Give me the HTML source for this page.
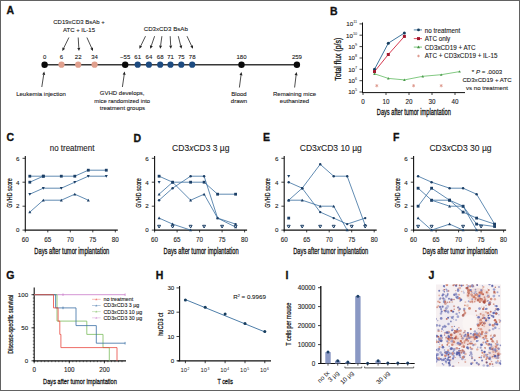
<!DOCTYPE html>
<html><head><meta charset="utf-8"><style>
html,body{margin:0;padding:0;background:#fff;}
svg{display:block;font-family:"Liberation Sans", sans-serif;}
</style></head><body>
<svg width="520" height="391" viewBox="0 0 520 391">
<rect x="0" y="0" width="520" height="391" fill="#fff"/>
<text x="6.6" y="13.9" font-size="10.5" font-weight="bold" fill="#111" stroke="#111" stroke-width="0.3">A</text>
<text x="330" y="14.5" font-size="10.5" font-weight="bold" fill="#111" stroke="#111" stroke-width="0.3">B</text>
<text x="6.5" y="141.3" font-size="10.5" font-weight="bold" fill="#111" stroke="#111" stroke-width="0.3">C</text>
<text x="133.6" y="141.5" font-size="10.5" font-weight="bold" fill="#111" stroke="#111" stroke-width="0.3">D</text>
<text x="263" y="141.3" font-size="10.5" font-weight="bold" fill="#111" stroke="#111" stroke-width="0.3">E</text>
<text x="393" y="141.3" font-size="10.5" font-weight="bold" fill="#111" stroke="#111" stroke-width="0.3">F</text>
<text x="6.3" y="279.3" font-size="10.5" font-weight="bold" fill="#111" stroke="#111" stroke-width="0.3">G</text>
<text x="155.8" y="279.1" font-size="10.5" font-weight="bold" fill="#111" stroke="#111" stroke-width="0.3">H</text>
<text x="285.5" y="279.1" font-size="10.5" font-weight="bold" fill="#111" stroke="#111" stroke-width="0.3">I</text>
<text x="428.5" y="279.1" font-size="10.5" font-weight="bold" fill="#111" stroke="#111" stroke-width="0.3">J</text>
<line x1="44.6" y1="64.7" x2="296.9" y2="64.7" stroke="#383838" stroke-width="1.6" />
<text x="79.0" y="24.2" font-size="6.0" text-anchor="middle" fill="#1a1a1a" font-weight="normal" stroke="#1a1a1a" stroke-width="0.1" >CD19xCD3 BsAb +</text>
<text x="79.0" y="32.0" font-size="6.0" text-anchor="middle" fill="#1a1a1a" font-weight="normal" stroke="#1a1a1a" stroke-width="0.1" >ATC + IL-15</text>
<line x1="68.9" y1="37.5" x2="63.7" y2="48.1" stroke="#222" stroke-width="0.8" />
<polygon points="62.3,51.0 62.4,47.5 65.1,48.8" fill="#222"/>
<line x1="78.2" y1="37.5" x2="78.8" y2="47.8" stroke="#222" stroke-width="0.8" />
<polygon points="79.0,51.0 77.3,47.9 80.3,47.7" fill="#222"/>
<line x1="86.9" y1="37.5" x2="91.7" y2="48.1" stroke="#222" stroke-width="0.8" />
<polygon points="93.0,51.0 90.3,48.7 93.0,47.5" fill="#222"/>
<text x="165.8" y="31.2" font-size="6.0" text-anchor="middle" fill="#1a1a1a" font-weight="normal" stroke="#1a1a1a" stroke-width="0.1" textLength="44.2" lengthAdjust="spacingAndGlyphs" >CD3xCD3 BsAb</text>
<line x1="145.5" y1="36.2" x2="140.8" y2="45.9" stroke="#222" stroke-width="0.8" />
<polygon points="139.4,48.8 139.4,45.3 142.1,46.6" fill="#222"/>
<line x1="154.6" y1="36.2" x2="151.3" y2="45.8" stroke="#222" stroke-width="0.8" />
<polygon points="150.3,48.8 149.9,45.3 152.8,46.3" fill="#222"/>
<line x1="161.9" y1="36.2" x2="160.6" y2="45.6" stroke="#222" stroke-width="0.8" />
<polygon points="160.2,48.8 159.1,45.4 162.1,45.8" fill="#222"/>
<line x1="170.2" y1="36.2" x2="170.7" y2="45.6" stroke="#222" stroke-width="0.8" />
<polygon points="170.9,48.8 169.2,45.7 172.2,45.5" fill="#222"/>
<line x1="178.3" y1="36.2" x2="180.7" y2="45.7" stroke="#222" stroke-width="0.8" />
<polygon points="181.5,48.8 179.3,46.1 182.2,45.3" fill="#222"/>
<line x1="187.0" y1="36.2" x2="191.6" y2="45.9" stroke="#222" stroke-width="0.8" />
<polygon points="193.0,48.8 190.3,46.6 193.0,45.3" fill="#222"/>
<text x="44.6" y="59.4" font-size="6.0" text-anchor="middle" fill="#1a1a1a" font-weight="normal" stroke="#1a1a1a" stroke-width="0.1" >0</text>
<text x="61.5" y="59.4" font-size="6.0" text-anchor="middle" fill="#1a1a1a" font-weight="normal" stroke="#1a1a1a" stroke-width="0.1" >6</text>
<text x="78.2" y="59.4" font-size="6.0" text-anchor="middle" fill="#1a1a1a" font-weight="normal" stroke="#1a1a1a" stroke-width="0.1" >22</text>
<text x="94.6" y="59.4" font-size="6.0" text-anchor="middle" fill="#1a1a1a" font-weight="normal" stroke="#1a1a1a" stroke-width="0.1" >34</text>
<text x="125.2" y="59.4" font-size="6.0" text-anchor="middle" fill="#1a1a1a" font-weight="normal" stroke="#1a1a1a" stroke-width="0.1" >~55</text>
<text x="137.7" y="59.4" font-size="6.0" text-anchor="middle" fill="#1a1a1a" font-weight="normal" stroke="#1a1a1a" stroke-width="0.1" >61</text>
<text x="148.9" y="59.4" font-size="6.0" text-anchor="middle" fill="#1a1a1a" font-weight="normal" stroke="#1a1a1a" stroke-width="0.1" >64</text>
<text x="160.2" y="59.4" font-size="6.0" text-anchor="middle" fill="#1a1a1a" font-weight="normal" stroke="#1a1a1a" stroke-width="0.1" >68</text>
<text x="170.5" y="59.4" font-size="6.0" text-anchor="middle" fill="#1a1a1a" font-weight="normal" stroke="#1a1a1a" stroke-width="0.1" >71</text>
<text x="181.3" y="59.4" font-size="6.0" text-anchor="middle" fill="#1a1a1a" font-weight="normal" stroke="#1a1a1a" stroke-width="0.1" >75</text>
<text x="192.2" y="59.4" font-size="6.0" text-anchor="middle" fill="#1a1a1a" font-weight="normal" stroke="#1a1a1a" stroke-width="0.1" >78</text>
<text x="241.5" y="59.4" font-size="6.0" text-anchor="middle" fill="#1a1a1a" font-weight="normal" stroke="#1a1a1a" stroke-width="0.1" >180</text>
<text x="296.9" y="59.4" font-size="6.0" text-anchor="middle" fill="#1a1a1a" font-weight="normal" stroke="#1a1a1a" stroke-width="0.1" >259</text>
<circle cx="44.6" cy="64.7" r="3.2" fill="#0a0a0a"/>
<circle cx="125.2" cy="64.7" r="3.2" fill="#0a0a0a"/>
<circle cx="241.5" cy="64.7" r="3.2" fill="#0a0a0a"/>
<circle cx="296.9" cy="64.7" r="3.2" fill="#0a0a0a"/>
<circle cx="61.5" cy="64.7" r="3.1" fill="#e0a08e"/>
<circle cx="78.2" cy="64.7" r="3.1" fill="#e0a08e"/>
<circle cx="94.6" cy="64.7" r="3.1" fill="#e0a08e"/>
<circle cx="137.7" cy="64.7" r="3.1" fill="#1d4b80"/>
<circle cx="148.9" cy="64.7" r="3.1" fill="#1d4b80"/>
<circle cx="160.2" cy="64.7" r="3.1" fill="#1d4b80"/>
<circle cx="170.5" cy="64.7" r="3.1" fill="#1d4b80"/>
<circle cx="181.3" cy="64.7" r="3.1" fill="#1d4b80"/>
<circle cx="192.2" cy="64.7" r="3.1" fill="#1d4b80"/>
<line x1="41.8" y1="87.0" x2="43.7" y2="74.7" stroke="#222" stroke-width="0.8" />
<polygon points="44.2,71.5 45.2,74.9 42.2,74.4" fill="#222"/>
<line x1="122.4" y1="87.0" x2="124.2" y2="74.7" stroke="#222" stroke-width="0.8" />
<polygon points="124.6,71.5 125.6,74.9 122.7,74.5" fill="#222"/>
<line x1="239.4" y1="87.5" x2="241.0" y2="75.2" stroke="#222" stroke-width="0.8" />
<polygon points="241.4,72.0 242.5,75.4 239.5,75.0" fill="#222"/>
<line x1="294.6" y1="87.5" x2="296.1" y2="75.2" stroke="#222" stroke-width="0.8" />
<polygon points="296.5,72.0 297.6,75.4 294.6,75.0" fill="#222"/>
<text x="41.0" y="95.8" font-size="6.0" text-anchor="middle" fill="#1a1a1a" font-weight="normal" stroke="#1a1a1a" stroke-width="0.1" >Leukemia injection</text>
<text x="122.2" y="95.2" font-size="6.0" text-anchor="middle" fill="#1a1a1a" font-weight="normal" stroke="#1a1a1a" stroke-width="0.1" >GVHD develops,</text>
<text x="122.2" y="102.5" font-size="6.0" text-anchor="middle" fill="#1a1a1a" font-weight="normal" stroke="#1a1a1a" stroke-width="0.1" textLength="55.8" lengthAdjust="spacingAndGlyphs" >mice randomized into</text>
<text x="122.4" y="109.8" font-size="6.0" text-anchor="middle" fill="#1a1a1a" font-weight="normal" stroke="#1a1a1a" stroke-width="0.1" >treatment groups</text>
<text x="239.0" y="95.7" font-size="6.0" text-anchor="middle" fill="#1a1a1a" font-weight="normal" stroke="#1a1a1a" stroke-width="0.1" >Blood</text>
<text x="239.0" y="102.6" font-size="6.0" text-anchor="middle" fill="#1a1a1a" font-weight="normal" stroke="#1a1a1a" stroke-width="0.1" >drawn</text>
<text x="294.5" y="95.7" font-size="6.0" text-anchor="middle" fill="#1a1a1a" font-weight="normal" stroke="#1a1a1a" stroke-width="0.1" >Remaining mice</text>
<text x="294.5" y="102.6" font-size="6.0" text-anchor="middle" fill="#1a1a1a" font-weight="normal" stroke="#1a1a1a" stroke-width="0.1" >euthanized</text>
<line x1="362.5" y1="22.5" x2="362.5" y2="92.6" stroke="#111" stroke-width="1" />
<line x1="362.0" y1="92.6" x2="465.0" y2="92.6" stroke="#111" stroke-width="1" />
<line x1="359.5" y1="92.0" x2="362.5" y2="92.0" stroke="#111" stroke-width="0.8" />
<text x="357.2" y="94.2" font-size="6.2" text-anchor="end" fill="#222" stroke="#222" stroke-width="0.1">10<tspan font-size="3.8" dy="-2.8" stroke-width="0">5</tspan></text>
<line x1="359.5" y1="80.7" x2="362.5" y2="80.7" stroke="#111" stroke-width="0.8" />
<text x="357.2" y="82.9" font-size="6.2" text-anchor="end" fill="#222" stroke="#222" stroke-width="0.1">10<tspan font-size="3.8" dy="-2.8" stroke-width="0">6</tspan></text>
<line x1="359.5" y1="69.3" x2="362.5" y2="69.3" stroke="#111" stroke-width="0.8" />
<text x="357.2" y="71.5" font-size="6.2" text-anchor="end" fill="#222" stroke="#222" stroke-width="0.1">10<tspan font-size="3.8" dy="-2.8" stroke-width="0">7</tspan></text>
<line x1="359.5" y1="58.0" x2="362.5" y2="58.0" stroke="#111" stroke-width="0.8" />
<text x="357.2" y="60.2" font-size="6.2" text-anchor="end" fill="#222" stroke="#222" stroke-width="0.1">10<tspan font-size="3.8" dy="-2.8" stroke-width="0">8</tspan></text>
<line x1="359.5" y1="46.6" x2="362.5" y2="46.6" stroke="#111" stroke-width="0.8" />
<text x="357.2" y="48.8" font-size="6.2" text-anchor="end" fill="#222" stroke="#222" stroke-width="0.1">10<tspan font-size="3.8" dy="-2.8" stroke-width="0">9</tspan></text>
<line x1="359.5" y1="35.2" x2="362.5" y2="35.2" stroke="#111" stroke-width="0.8" />
<text x="357.2" y="37.5" font-size="6.2" text-anchor="end" fill="#222" stroke="#222" stroke-width="0.1">10<tspan font-size="3.8" dy="-2.8" stroke-width="0">10</tspan></text>
<line x1="359.5" y1="23.9" x2="362.5" y2="23.9" stroke="#111" stroke-width="0.8" />
<text x="357.2" y="26.1" font-size="6.2" text-anchor="end" fill="#222" stroke="#222" stroke-width="0.1">10<tspan font-size="3.8" dy="-2.8" stroke-width="0">11</tspan></text>
<line x1="363.0" y1="92.6" x2="363.0" y2="95.0" stroke="#111" stroke-width="0.8" />
<text x="363.0" y="103.8" font-size="6.3" text-anchor="middle" fill="#222" font-weight="normal" stroke="#222" stroke-width="0.1" >0</text>
<line x1="386.0" y1="92.6" x2="386.0" y2="95.0" stroke="#111" stroke-width="0.8" />
<text x="386.0" y="103.8" font-size="6.3" text-anchor="middle" fill="#222" font-weight="normal" stroke="#222" stroke-width="0.1" >10</text>
<line x1="409.0" y1="92.6" x2="409.0" y2="95.0" stroke="#111" stroke-width="0.8" />
<text x="409.0" y="103.8" font-size="6.3" text-anchor="middle" fill="#222" font-weight="normal" stroke="#222" stroke-width="0.1" >20</text>
<line x1="432.0" y1="92.6" x2="432.0" y2="95.0" stroke="#111" stroke-width="0.8" />
<text x="432.0" y="103.8" font-size="6.3" text-anchor="middle" fill="#222" font-weight="normal" stroke="#222" stroke-width="0.1" >30</text>
<line x1="455.0" y1="92.6" x2="455.0" y2="95.0" stroke="#111" stroke-width="0.8" />
<text x="455.0" y="103.8" font-size="6.3" text-anchor="middle" fill="#222" font-weight="normal" stroke="#222" stroke-width="0.1" >40</text>
<text x="413.8" y="115.2" font-size="8.2" text-anchor="middle" fill="#111" font-weight="normal" textLength="74" lengthAdjust="spacingAndGlyphs" stroke="#111" stroke-width="0.27">Days after tumor implantation</text>
<text transform="translate(337.6,59.3) rotate(-90)" x="0" y="3.0" font-size="8.2" text-anchor="middle" fill="#111" font-weight="normal" textLength="43" lengthAdjust="spacingAndGlyphs" stroke="#111" stroke-width="0.27">Total flux (p/s)</text>
<polyline points="374.5,69.3 388.3,43.2 404.4,33.0" fill="none" stroke="#2a6592" stroke-width="0.9"/>
<polyline points="374.5,71.6 388.3,54.5 404.4,36.4" fill="none" stroke="#d0243c" stroke-width="0.9"/>
<polyline points="374.5,73.8 388.3,78.4 404.4,79.9 422.8,76.3 441.2,74.7 459.6,71.6" fill="none" stroke="#62bb62" stroke-width="0.8"/>
<circle cx="374.5" cy="69.3" r="1.5" fill="#173d5e"/>
<circle cx="388.3" cy="43.2" r="1.5" fill="#173d5e"/>
<circle cx="404.4" cy="33.0" r="1.5" fill="#173d5e"/>
<rect x="373.0" y="70.1" width="3" height="3" fill="#a3182e"/>
<rect x="386.8" y="53.0" width="3" height="3" fill="#a3182e"/>
<rect x="402.9" y="34.9" width="3" height="3" fill="#a3182e"/>
<polygon points="373.2,74.9 375.8,74.9 374.5,72.5" fill="#4a9a4a"/>
<polygon points="387.0,79.4 389.6,79.4 388.3,77.1" fill="#4a9a4a"/>
<polygon points="403.1,80.9 405.7,80.9 404.4,78.6" fill="#4a9a4a"/>
<polygon points="421.5,77.4 424.1,77.4 422.8,75.0" fill="#4a9a4a"/>
<polygon points="439.9,75.8 442.5,75.8 441.2,73.4" fill="#4a9a4a"/>
<polygon points="458.3,72.6 460.9,72.6 459.6,70.3" fill="#4a9a4a"/>
<line x1="376.8" y1="84.1" x2="376.8" y2="87.3" stroke="#dc9488" stroke-width="0.8" />
<line x1="375.4" y1="84.9" x2="378.2" y2="86.5" stroke="#dc9488" stroke-width="0.8" />
<line x1="378.2" y1="84.9" x2="375.4" y2="86.5" stroke="#dc9488" stroke-width="0.8" />
<line x1="413.6" y1="84.1" x2="413.6" y2="87.3" stroke="#dc9488" stroke-width="0.8" />
<line x1="412.2" y1="84.9" x2="415.0" y2="86.5" stroke="#dc9488" stroke-width="0.8" />
<line x1="415.0" y1="84.9" x2="412.2" y2="86.5" stroke="#dc9488" stroke-width="0.8" />
<line x1="441.2" y1="84.1" x2="441.2" y2="87.3" stroke="#dc9488" stroke-width="0.8" />
<line x1="439.8" y1="84.9" x2="442.6" y2="86.5" stroke="#dc9488" stroke-width="0.8" />
<line x1="442.6" y1="84.9" x2="439.8" y2="86.5" stroke="#dc9488" stroke-width="0.8" />
<line x1="413.8" y1="29.9" x2="422.0" y2="29.9" stroke="#2a6592" stroke-width="0.8" />
<circle cx="418.5" cy="29.9" r="1.4" fill="#173d5e"/>
<line x1="413.8" y1="38.6" x2="422.0" y2="38.6" stroke="#d0243c" stroke-width="0.8" />
<rect x="417.0" y="37.1" width="3" height="3" fill="#a3182e"/>
<line x1="413.8" y1="47.1" x2="422.0" y2="47.1" stroke="#5cb85c" stroke-width="0.8" />
<polygon points="417.0,48.3 420.0,48.3 418.5,45.6" fill="#3f8f3f"/>
<line x1="418.5" y1="54.7" x2="418.5" y2="57.3" stroke="#dc9488" stroke-width="0.8" />
<line x1="417.4" y1="55.4" x2="419.6" y2="56.6" stroke="#dc9488" stroke-width="0.8" />
<line x1="419.6" y1="55.4" x2="417.4" y2="56.6" stroke="#dc9488" stroke-width="0.8" />
<text x="424.8" y="32.6" font-size="6.3" text-anchor="start" fill="#222" font-weight="normal" stroke="#222" stroke-width="0.1" >no treatment</text>
<text x="424.8" y="41.0" font-size="6.3" text-anchor="start" fill="#222" font-weight="normal" stroke="#222" stroke-width="0.1" >ATC only</text>
<text x="424.8" y="49.7" font-size="6.3" text-anchor="start" fill="#222" font-weight="normal" stroke="#222" stroke-width="0.1" >CD3xCD19 + ATC</text>
<text x="424.8" y="58.3" font-size="6.3" text-anchor="start" fill="#222" font-weight="normal" stroke="#222" stroke-width="0.1" >ATC + CD3xCD19 + IL-15</text>
<text x="487.0" y="74.0" font-size="6.1" text-anchor="middle" fill="#222" font-weight="normal" stroke="#222" stroke-width="0.1" >* <tspan font-style="italic">P</tspan> = .0003</text>
<text x="487.0" y="82.1" font-size="6.1" text-anchor="middle" fill="#222" font-weight="normal" stroke="#222" stroke-width="0.1" >CD3xCD19 + ATC</text>
<text x="487.0" y="89.9" font-size="6.1" text-anchor="middle" fill="#222" font-weight="normal" stroke="#222" stroke-width="0.1" >vs no treatment</text>
<line x1="25.3" y1="156.0" x2="25.3" y2="230.7" stroke="#111" stroke-width="1.1" />
<line x1="24.8" y1="230.1" x2="117.8" y2="230.1" stroke="#111" stroke-width="1.2" />
<line x1="22.5" y1="230.1" x2="25.3" y2="230.1" stroke="#111" stroke-width="0.8" />
<text x="17.8" y="232.3" font-size="6.2" text-anchor="middle" fill="#222" font-weight="normal" stroke="#222" stroke-width="0.1" >0</text>
<line x1="22.5" y1="206.2" x2="25.3" y2="206.2" stroke="#111" stroke-width="0.8" />
<text x="17.8" y="208.4" font-size="6.2" text-anchor="middle" fill="#222" font-weight="normal" stroke="#222" stroke-width="0.1" >2</text>
<line x1="22.5" y1="182.2" x2="25.3" y2="182.2" stroke="#111" stroke-width="0.8" />
<text x="17.8" y="184.5" font-size="6.2" text-anchor="middle" fill="#222" font-weight="normal" stroke="#222" stroke-width="0.1" >4</text>
<line x1="22.5" y1="158.3" x2="25.3" y2="158.3" stroke="#111" stroke-width="0.8" />
<text x="17.8" y="160.5" font-size="6.2" text-anchor="middle" fill="#222" font-weight="normal" stroke="#222" stroke-width="0.1" >6</text>
<line x1="25.3" y1="230.1" x2="25.3" y2="232.4" stroke="#111" stroke-width="0.8" />
<text x="25.3" y="242.0" font-size="6.3" text-anchor="middle" fill="#222" font-weight="normal" stroke="#222" stroke-width="0.1" >60</text>
<line x1="47.8" y1="230.1" x2="47.8" y2="232.4" stroke="#111" stroke-width="0.8" />
<text x="47.8" y="242.0" font-size="6.3" text-anchor="middle" fill="#222" font-weight="normal" stroke="#222" stroke-width="0.1" >65</text>
<line x1="70.3" y1="230.1" x2="70.3" y2="232.4" stroke="#111" stroke-width="0.8" />
<text x="70.3" y="242.0" font-size="6.3" text-anchor="middle" fill="#222" font-weight="normal" stroke="#222" stroke-width="0.1" >70</text>
<line x1="92.8" y1="230.1" x2="92.8" y2="232.4" stroke="#111" stroke-width="0.8" />
<text x="92.8" y="242.0" font-size="6.3" text-anchor="middle" fill="#222" font-weight="normal" stroke="#222" stroke-width="0.1" >75</text>
<line x1="115.3" y1="230.1" x2="115.3" y2="232.4" stroke="#111" stroke-width="0.8" />
<text x="115.3" y="242.0" font-size="6.3" text-anchor="middle" fill="#222" font-weight="normal" stroke="#222" stroke-width="0.1" >80</text>
<text x="71.8" y="253.6" font-size="8.4" text-anchor="middle" fill="#111" font-weight="normal" textLength="75" lengthAdjust="spacingAndGlyphs" stroke="#111" stroke-width="0.27">Days after tumor implantation</text>
<text transform="translate(8.6,193.0) rotate(-90)" x="0" y="2.9" font-size="8.0" text-anchor="middle" fill="#111" font-weight="normal" textLength="29.5" lengthAdjust="spacingAndGlyphs" stroke="#111" stroke-width="0.22">GVHD score</text>
<text x="72.1" y="151.1" font-size="8.5" text-anchor="middle" fill="#222" font-weight="normal" stroke="#222" stroke-width="0.1" textLength="44.6" lengthAdjust="spacingAndGlyphs" >no treatment</text>
<polyline points="29.8,176.2 43.3,176.2 61.3,176.2 74.8,176.2 88.3,170.2 106.3,170.2" fill="none" stroke="#3a6f9f" stroke-width="0.8"/>
<rect x="28.4" y="174.8" width="2.8" height="2.8" fill="#1c3f66"/>
<rect x="41.9" y="174.8" width="2.8" height="2.8" fill="#1c3f66"/>
<rect x="59.9" y="174.8" width="2.8" height="2.8" fill="#1c3f66"/>
<rect x="73.4" y="174.8" width="2.8" height="2.8" fill="#1c3f66"/>
<rect x="86.9" y="168.8" width="2.8" height="2.8" fill="#1c3f66"/>
<rect x="104.9" y="168.8" width="2.8" height="2.8" fill="#1c3f66"/>
<polyline points="29.8,182.2 43.3,176.2" fill="none" stroke="#3a6f9f" stroke-width="0.8"/>
<rect x="28.4" y="180.8" width="2.8" height="2.8" fill="#1c3f66"/>
<rect x="41.9" y="174.8" width="2.8" height="2.8" fill="#1c3f66"/>
<polyline points="29.8,194.2 43.3,188.2 61.3,188.2 74.8,182.2 88.3,176.2 106.3,176.2" fill="none" stroke="#3a6f9f" stroke-width="0.8"/>
<polygon points="28.3,193.0 31.3,193.0 29.8,195.7" fill="#1c3f66"/>
<polygon points="41.8,187.0 44.8,187.0 43.3,189.7" fill="#1c3f66"/>
<polygon points="59.8,187.0 62.8,187.0 61.3,189.7" fill="#1c3f66"/>
<polygon points="73.3,181.0 76.3,181.0 74.8,183.7" fill="#1c3f66"/>
<polygon points="86.8,175.0 89.8,175.0 88.3,177.7" fill="#1c3f66"/>
<polygon points="104.8,175.0 107.8,175.0 106.3,177.7" fill="#1c3f66"/>
<polyline points="29.8,212.1 43.3,200.2 61.3,200.2 74.8,194.2 88.3,200.2" fill="none" stroke="#3a6f9f" stroke-width="0.8"/>
<polygon points="28.3,213.3 31.3,213.3 29.8,210.6" fill="#1c3f66"/>
<polygon points="41.8,201.4 44.8,201.4 43.3,198.7" fill="#1c3f66"/>
<polygon points="59.8,201.4 62.8,201.4 61.3,198.7" fill="#1c3f66"/>
<polygon points="73.3,195.4 76.3,195.4 74.8,192.7" fill="#1c3f66"/>
<polygon points="86.8,201.4 89.8,201.4 88.3,198.7" fill="#1c3f66"/>
<line x1="154.6" y1="156.0" x2="154.6" y2="230.7" stroke="#111" stroke-width="1.1" />
<line x1="154.1" y1="230.1" x2="247.1" y2="230.1" stroke="#111" stroke-width="1.2" />
<line x1="151.8" y1="230.1" x2="154.6" y2="230.1" stroke="#111" stroke-width="0.8" />
<text x="147.1" y="232.3" font-size="6.2" text-anchor="middle" fill="#222" font-weight="normal" stroke="#222" stroke-width="0.1" >0</text>
<line x1="151.8" y1="206.2" x2="154.6" y2="206.2" stroke="#111" stroke-width="0.8" />
<text x="147.1" y="208.4" font-size="6.2" text-anchor="middle" fill="#222" font-weight="normal" stroke="#222" stroke-width="0.1" >2</text>
<line x1="151.8" y1="182.2" x2="154.6" y2="182.2" stroke="#111" stroke-width="0.8" />
<text x="147.1" y="184.5" font-size="6.2" text-anchor="middle" fill="#222" font-weight="normal" stroke="#222" stroke-width="0.1" >4</text>
<line x1="151.8" y1="158.3" x2="154.6" y2="158.3" stroke="#111" stroke-width="0.8" />
<text x="147.1" y="160.5" font-size="6.2" text-anchor="middle" fill="#222" font-weight="normal" stroke="#222" stroke-width="0.1" >6</text>
<line x1="154.6" y1="230.1" x2="154.6" y2="232.4" stroke="#111" stroke-width="0.8" />
<text x="154.6" y="242.0" font-size="6.3" text-anchor="middle" fill="#222" font-weight="normal" stroke="#222" stroke-width="0.1" >60</text>
<line x1="177.1" y1="230.1" x2="177.1" y2="232.4" stroke="#111" stroke-width="0.8" />
<text x="177.1" y="242.0" font-size="6.3" text-anchor="middle" fill="#222" font-weight="normal" stroke="#222" stroke-width="0.1" >65</text>
<line x1="199.6" y1="230.1" x2="199.6" y2="232.4" stroke="#111" stroke-width="0.8" />
<text x="199.6" y="242.0" font-size="6.3" text-anchor="middle" fill="#222" font-weight="normal" stroke="#222" stroke-width="0.1" >70</text>
<line x1="222.1" y1="230.1" x2="222.1" y2="232.4" stroke="#111" stroke-width="0.8" />
<text x="222.1" y="242.0" font-size="6.3" text-anchor="middle" fill="#222" font-weight="normal" stroke="#222" stroke-width="0.1" >75</text>
<line x1="244.6" y1="230.1" x2="244.6" y2="232.4" stroke="#111" stroke-width="0.8" />
<text x="244.6" y="242.0" font-size="6.3" text-anchor="middle" fill="#222" font-weight="normal" stroke="#222" stroke-width="0.1" >80</text>
<text x="201.1" y="253.6" font-size="8.4" text-anchor="middle" fill="#111" font-weight="normal" textLength="75" lengthAdjust="spacingAndGlyphs" stroke="#111" stroke-width="0.27">Days after tumor implantation</text>
<text transform="translate(137.9,193.0) rotate(-90)" x="0" y="2.9" font-size="8.0" text-anchor="middle" fill="#111" font-weight="normal" textLength="29.5" lengthAdjust="spacingAndGlyphs" stroke="#111" stroke-width="0.22">GVHD score</text>
<text x="200.8" y="151.1" font-size="8.5" text-anchor="middle" fill="#222" font-weight="normal" stroke="#222" stroke-width="0.1" >CD3<tspan font-style="italic">x</tspan>CD3 3 µg</text>
<polyline points="159.1,176.2 172.6,182.2 190.6,182.2 204.1,182.2 217.6,194.2 235.6,194.2" fill="none" stroke="#3a6f9f" stroke-width="0.8"/>
<rect x="157.7" y="174.8" width="2.8" height="2.8" fill="#1c3f66"/>
<rect x="171.2" y="180.8" width="2.8" height="2.8" fill="#1c3f66"/>
<rect x="189.2" y="180.8" width="2.8" height="2.8" fill="#1c3f66"/>
<rect x="202.7" y="180.8" width="2.8" height="2.8" fill="#1c3f66"/>
<rect x="216.2" y="192.8" width="2.8" height="2.8" fill="#1c3f66"/>
<rect x="234.2" y="192.8" width="2.8" height="2.8" fill="#1c3f66"/>
<polyline points="159.1,194.2 172.6,182.2 190.6,200.2 204.1,194.2 217.6,218.1 235.6,227.1" fill="none" stroke="#3a6f9f" stroke-width="0.8"/>
<polygon points="157.6,195.4 160.6,195.4 159.1,192.7" fill="#1c3f66"/>
<polygon points="171.1,183.4 174.1,183.4 172.6,180.7" fill="#1c3f66"/>
<polygon points="189.1,201.4 192.1,201.4 190.6,198.7" fill="#1c3f66"/>
<polygon points="202.6,195.4 205.6,195.4 204.1,192.7" fill="#1c3f66"/>
<polygon points="216.1,219.3 219.1,219.3 217.6,216.6" fill="#1c3f66"/>
<polygon points="234.1,228.3 237.1,228.3 235.6,225.6" fill="#1c3f66"/>
<polyline points="159.1,200.2 172.6,188.2 190.6,176.2 204.1,176.2 217.6,218.1 235.6,224.1" fill="none" stroke="#3a6f9f" stroke-width="0.8"/>
<circle cx="159.1" cy="200.2" r="1.2" fill="#1c3f66"/>
<circle cx="172.6" cy="188.2" r="1.2" fill="#1c3f66"/>
<circle cx="190.6" cy="176.2" r="1.2" fill="#1c3f66"/>
<circle cx="204.1" cy="176.2" r="1.2" fill="#1c3f66"/>
<circle cx="217.6" cy="218.1" r="1.2" fill="#1c3f66"/>
<circle cx="235.6" cy="224.1" r="1.2" fill="#1c3f66"/>
<polyline points="159.1,218.1 172.6,224.1 190.6,230.1" fill="none" stroke="#3a6f9f" stroke-width="0.8"/>
<polygon points="157.6,219.3 160.6,219.3 159.1,216.6" fill="#1c3f66"/>
<polygon points="171.1,225.3 174.1,225.3 172.6,222.6" fill="#1c3f66"/>
<polygon points="189.1,231.3 192.1,231.3 190.6,228.6" fill="#1c3f66"/>
<polygon points="157.6,181.0 160.6,181.0 159.1,183.7" fill="#1c3f66"/>
<polygon points="157.6,225.3 160.6,225.3 159.1,228.0" fill="#fff" stroke="#1c3f66" stroke-width="1.0"/>
<polygon points="171.1,225.3 174.1,225.3 172.6,228.0" fill="#fff" stroke="#1c3f66" stroke-width="1.0"/>
<polygon points="189.1,225.3 192.1,225.3 190.6,228.0" fill="#fff" stroke="#1c3f66" stroke-width="1.0"/>
<polygon points="202.6,225.3 205.6,225.3 204.1,228.0" fill="#fff" stroke="#1c3f66" stroke-width="1.0"/>
<polygon points="220.6,225.3 223.6,225.3 222.1,228.0" fill="#fff" stroke="#1c3f66" stroke-width="1.0"/>
<polygon points="234.1,225.3 237.1,225.3 235.6,228.0" fill="#fff" stroke="#1c3f66" stroke-width="1.0"/>
<line x1="284.2" y1="156.0" x2="284.2" y2="230.7" stroke="#111" stroke-width="1.1" />
<line x1="283.7" y1="230.1" x2="376.7" y2="230.1" stroke="#111" stroke-width="1.2" />
<line x1="281.4" y1="230.1" x2="284.2" y2="230.1" stroke="#111" stroke-width="0.8" />
<text x="276.7" y="232.3" font-size="6.2" text-anchor="middle" fill="#222" font-weight="normal" stroke="#222" stroke-width="0.1" >0</text>
<line x1="281.4" y1="206.2" x2="284.2" y2="206.2" stroke="#111" stroke-width="0.8" />
<text x="276.7" y="208.4" font-size="6.2" text-anchor="middle" fill="#222" font-weight="normal" stroke="#222" stroke-width="0.1" >2</text>
<line x1="281.4" y1="182.2" x2="284.2" y2="182.2" stroke="#111" stroke-width="0.8" />
<text x="276.7" y="184.5" font-size="6.2" text-anchor="middle" fill="#222" font-weight="normal" stroke="#222" stroke-width="0.1" >4</text>
<line x1="281.4" y1="158.3" x2="284.2" y2="158.3" stroke="#111" stroke-width="0.8" />
<text x="276.7" y="160.5" font-size="6.2" text-anchor="middle" fill="#222" font-weight="normal" stroke="#222" stroke-width="0.1" >6</text>
<line x1="284.2" y1="230.1" x2="284.2" y2="232.4" stroke="#111" stroke-width="0.8" />
<text x="284.2" y="242.0" font-size="6.3" text-anchor="middle" fill="#222" font-weight="normal" stroke="#222" stroke-width="0.1" >60</text>
<line x1="306.7" y1="230.1" x2="306.7" y2="232.4" stroke="#111" stroke-width="0.8" />
<text x="306.7" y="242.0" font-size="6.3" text-anchor="middle" fill="#222" font-weight="normal" stroke="#222" stroke-width="0.1" >65</text>
<line x1="329.2" y1="230.1" x2="329.2" y2="232.4" stroke="#111" stroke-width="0.8" />
<text x="329.2" y="242.0" font-size="6.3" text-anchor="middle" fill="#222" font-weight="normal" stroke="#222" stroke-width="0.1" >70</text>
<line x1="351.7" y1="230.1" x2="351.7" y2="232.4" stroke="#111" stroke-width="0.8" />
<text x="351.7" y="242.0" font-size="6.3" text-anchor="middle" fill="#222" font-weight="normal" stroke="#222" stroke-width="0.1" >75</text>
<line x1="374.2" y1="230.1" x2="374.2" y2="232.4" stroke="#111" stroke-width="0.8" />
<text x="374.2" y="242.0" font-size="6.3" text-anchor="middle" fill="#222" font-weight="normal" stroke="#222" stroke-width="0.1" >80</text>
<text x="330.7" y="253.6" font-size="8.4" text-anchor="middle" fill="#111" font-weight="normal" textLength="75" lengthAdjust="spacingAndGlyphs" stroke="#111" stroke-width="0.27">Days after tumor implantation</text>
<text transform="translate(267.5,193.0) rotate(-90)" x="0" y="2.9" font-size="8.0" text-anchor="middle" fill="#111" font-weight="normal" textLength="29.5" lengthAdjust="spacingAndGlyphs" stroke="#111" stroke-width="0.22">GVHD score</text>
<text x="330.8" y="151.1" font-size="8.5" text-anchor="middle" fill="#222" font-weight="normal" stroke="#222" stroke-width="0.1" >CD3<tspan font-style="italic">x</tspan>CD3 10 µg</text>
<polyline points="288.7,182.2 302.2,188.2 320.2,212.1 333.7,218.1 347.2,224.1 365.2,218.1" fill="none" stroke="#3a6f9f" stroke-width="0.8"/>
<circle cx="288.7" cy="182.2" r="1.2" fill="#1c3f66"/>
<circle cx="302.2" cy="188.2" r="1.2" fill="#1c3f66"/>
<circle cx="320.2" cy="212.1" r="1.2" fill="#1c3f66"/>
<circle cx="333.7" cy="218.1" r="1.2" fill="#1c3f66"/>
<circle cx="347.2" cy="224.1" r="1.2" fill="#1c3f66"/>
<circle cx="365.2" cy="218.1" r="1.2" fill="#1c3f66"/>
<polyline points="288.7,200.2 302.2,188.2 320.2,164.3 333.7,176.2 347.2,176.2 365.2,225.3" fill="none" stroke="#3a6f9f" stroke-width="0.8"/>
<circle cx="288.7" cy="200.2" r="1.2" fill="#1c3f66"/>
<circle cx="302.2" cy="188.2" r="1.2" fill="#1c3f66"/>
<circle cx="320.2" cy="164.3" r="1.2" fill="#1c3f66"/>
<circle cx="333.7" cy="176.2" r="1.2" fill="#1c3f66"/>
<circle cx="347.2" cy="176.2" r="1.2" fill="#1c3f66"/>
<circle cx="365.2" cy="225.3" r="1.2" fill="#1c3f66"/>
<polyline points="288.7,200.2 302.2,200.2 320.2,206.2 333.7,206.2 347.2,230.1" fill="none" stroke="#3a6f9f" stroke-width="0.8"/>
<polygon points="287.2,201.4 290.2,201.4 288.7,198.7" fill="#1c3f66"/>
<polygon points="300.7,201.4 303.7,201.4 302.2,198.7" fill="#1c3f66"/>
<polygon points="318.7,207.4 321.7,207.4 320.2,204.7" fill="#1c3f66"/>
<polygon points="332.2,207.4 335.2,207.4 333.7,204.7" fill="#1c3f66"/>
<polygon points="345.7,231.3 348.7,231.3 347.2,228.6" fill="#1c3f66"/>
<polygon points="287.2,175.0 290.2,175.0 288.7,177.7" fill="#1c3f66"/>
<rect x="287.3" y="216.7" width="2.8" height="2.8" fill="#1c3f66"/>
<polygon points="287.2,225.3 290.2,225.3 288.7,228.0" fill="#fff" stroke="#1c3f66" stroke-width="1.0"/>
<polygon points="300.7,225.3 303.7,225.3 302.2,228.0" fill="#fff" stroke="#1c3f66" stroke-width="1.0"/>
<polygon points="318.7,225.3 321.7,225.3 320.2,228.0" fill="#fff" stroke="#1c3f66" stroke-width="1.0"/>
<polygon points="332.2,225.3 335.2,225.3 333.7,228.0" fill="#fff" stroke="#1c3f66" stroke-width="1.0"/>
<polygon points="350.2,225.3 353.2,225.3 351.7,228.0" fill="#fff" stroke="#1c3f66" stroke-width="1.0"/>
<polygon points="363.7,225.3 366.7,225.3 365.2,228.0" fill="#fff" stroke="#1c3f66" stroke-width="1.0"/>
<line x1="413.6" y1="156.0" x2="413.6" y2="230.7" stroke="#111" stroke-width="1.1" />
<line x1="413.1" y1="230.1" x2="506.1" y2="230.1" stroke="#111" stroke-width="1.2" />
<line x1="410.8" y1="230.1" x2="413.6" y2="230.1" stroke="#111" stroke-width="0.8" />
<text x="406.1" y="232.3" font-size="6.2" text-anchor="middle" fill="#222" font-weight="normal" stroke="#222" stroke-width="0.1" >0</text>
<line x1="410.8" y1="206.2" x2="413.6" y2="206.2" stroke="#111" stroke-width="0.8" />
<text x="406.1" y="208.4" font-size="6.2" text-anchor="middle" fill="#222" font-weight="normal" stroke="#222" stroke-width="0.1" >2</text>
<line x1="410.8" y1="182.2" x2="413.6" y2="182.2" stroke="#111" stroke-width="0.8" />
<text x="406.1" y="184.5" font-size="6.2" text-anchor="middle" fill="#222" font-weight="normal" stroke="#222" stroke-width="0.1" >4</text>
<line x1="410.8" y1="158.3" x2="413.6" y2="158.3" stroke="#111" stroke-width="0.8" />
<text x="406.1" y="160.5" font-size="6.2" text-anchor="middle" fill="#222" font-weight="normal" stroke="#222" stroke-width="0.1" >6</text>
<line x1="413.6" y1="230.1" x2="413.6" y2="232.4" stroke="#111" stroke-width="0.8" />
<text x="413.6" y="242.0" font-size="6.3" text-anchor="middle" fill="#222" font-weight="normal" stroke="#222" stroke-width="0.1" >60</text>
<line x1="436.1" y1="230.1" x2="436.1" y2="232.4" stroke="#111" stroke-width="0.8" />
<text x="436.1" y="242.0" font-size="6.3" text-anchor="middle" fill="#222" font-weight="normal" stroke="#222" stroke-width="0.1" >65</text>
<line x1="458.6" y1="230.1" x2="458.6" y2="232.4" stroke="#111" stroke-width="0.8" />
<text x="458.6" y="242.0" font-size="6.3" text-anchor="middle" fill="#222" font-weight="normal" stroke="#222" stroke-width="0.1" >70</text>
<line x1="481.1" y1="230.1" x2="481.1" y2="232.4" stroke="#111" stroke-width="0.8" />
<text x="481.1" y="242.0" font-size="6.3" text-anchor="middle" fill="#222" font-weight="normal" stroke="#222" stroke-width="0.1" >75</text>
<line x1="503.6" y1="230.1" x2="503.6" y2="232.4" stroke="#111" stroke-width="0.8" />
<text x="503.6" y="242.0" font-size="6.3" text-anchor="middle" fill="#222" font-weight="normal" stroke="#222" stroke-width="0.1" >80</text>
<text x="460.1" y="253.6" font-size="8.4" text-anchor="middle" fill="#111" font-weight="normal" textLength="75" lengthAdjust="spacingAndGlyphs" stroke="#111" stroke-width="0.27">Days after tumor implantation</text>
<text transform="translate(396.9,193.0) rotate(-90)" x="0" y="2.9" font-size="8.0" text-anchor="middle" fill="#111" font-weight="normal" textLength="29.5" lengthAdjust="spacingAndGlyphs" stroke="#111" stroke-width="0.22">GVHD score</text>
<text x="460.5" y="151.1" font-size="8.5" text-anchor="middle" fill="#222" font-weight="normal" stroke="#222" stroke-width="0.1" >CD3<tspan font-style="italic">x</tspan>CD3 30 µg</text>
<polyline points="418.1,176.2 431.6,182.2 449.6,188.2 463.1,188.2 476.6,194.2 494.6,224.1" fill="none" stroke="#3a6f9f" stroke-width="0.8"/>
<circle cx="418.1" cy="176.2" r="1.2" fill="#1c3f66"/>
<circle cx="431.6" cy="182.2" r="1.2" fill="#1c3f66"/>
<circle cx="449.6" cy="188.2" r="1.2" fill="#1c3f66"/>
<circle cx="463.1" cy="188.2" r="1.2" fill="#1c3f66"/>
<circle cx="476.6" cy="194.2" r="1.2" fill="#1c3f66"/>
<circle cx="494.6" cy="224.1" r="1.2" fill="#1c3f66"/>
<polyline points="418.1,188.2 431.6,200.2 449.6,200.2 463.1,212.1 476.6,218.1 494.6,224.1" fill="none" stroke="#3a6f9f" stroke-width="0.8"/>
<rect x="416.7" y="186.8" width="2.8" height="2.8" fill="#1c3f66"/>
<rect x="430.2" y="198.8" width="2.8" height="2.8" fill="#1c3f66"/>
<rect x="448.2" y="198.8" width="2.8" height="2.8" fill="#1c3f66"/>
<rect x="461.7" y="210.7" width="2.8" height="2.8" fill="#1c3f66"/>
<rect x="475.2" y="216.7" width="2.8" height="2.8" fill="#1c3f66"/>
<rect x="493.2" y="222.7" width="2.8" height="2.8" fill="#1c3f66"/>
<polyline points="418.1,206.2 431.6,188.2 449.6,200.2 463.1,206.2 476.6,224.1 494.6,226.5" fill="none" stroke="#3a6f9f" stroke-width="0.8"/>
<rect x="416.7" y="204.8" width="2.8" height="2.8" fill="#1c3f66"/>
<rect x="430.2" y="186.8" width="2.8" height="2.8" fill="#1c3f66"/>
<rect x="448.2" y="198.8" width="2.8" height="2.8" fill="#1c3f66"/>
<rect x="461.7" y="204.8" width="2.8" height="2.8" fill="#1c3f66"/>
<rect x="475.2" y="222.7" width="2.8" height="2.8" fill="#1c3f66"/>
<rect x="493.2" y="225.1" width="2.8" height="2.8" fill="#1c3f66"/>
<polyline points="431.6,200.2 449.6,206.2 463.1,206.2 476.6,230.1" fill="none" stroke="#3a6f9f" stroke-width="0.8"/>
<polygon points="430.1,201.4 433.1,201.4 431.6,198.7" fill="#1c3f66"/>
<polygon points="448.1,207.4 451.1,207.4 449.6,204.7" fill="#1c3f66"/>
<polygon points="461.6,207.4 464.6,207.4 463.1,204.7" fill="#1c3f66"/>
<polygon points="475.1,231.3 478.1,231.3 476.6,228.6" fill="#1c3f66"/>
<polyline points="418.1,218.1 431.6,230.1 449.6,224.1 463.1,230.1" fill="none" stroke="#3a6f9f" stroke-width="0.8"/>
<polygon points="416.6,219.3 419.6,219.3 418.1,216.6" fill="#1c3f66"/>
<polygon points="430.1,231.3 433.1,231.3 431.6,228.6" fill="#1c3f66"/>
<polygon points="448.1,225.3 451.1,225.3 449.6,222.6" fill="#1c3f66"/>
<polygon points="461.6,231.3 464.6,231.3 463.1,228.6" fill="#1c3f66"/>
<polygon points="416.6,225.3 419.6,225.3 418.1,228.0" fill="#fff" stroke="#1c3f66" stroke-width="1.0"/>
<polygon points="430.1,225.3 433.1,225.3 431.6,228.0" fill="#fff" stroke="#1c3f66" stroke-width="1.0"/>
<polygon points="461.6,225.3 464.6,225.3 463.1,228.0" fill="#fff" stroke="#1c3f66" stroke-width="1.0"/>
<polygon points="479.6,225.3 482.6,225.3 481.1,228.0" fill="#fff" stroke="#1c3f66" stroke-width="1.0"/>
<line x1="34.2" y1="287.5" x2="34.2" y2="361.4" stroke="#111" stroke-width="1.1" />
<line x1="32.8" y1="360.8" x2="34.2" y2="360.8" stroke="#111" stroke-width="0.6" />
<line x1="32.8" y1="357.5" x2="34.2" y2="357.5" stroke="#111" stroke-width="0.6" />
<line x1="32.8" y1="354.2" x2="34.2" y2="354.2" stroke="#111" stroke-width="0.6" />
<line x1="32.8" y1="350.9" x2="34.2" y2="350.9" stroke="#111" stroke-width="0.6" />
<line x1="32.8" y1="347.6" x2="34.2" y2="347.6" stroke="#111" stroke-width="0.6" />
<line x1="32.8" y1="344.3" x2="34.2" y2="344.3" stroke="#111" stroke-width="0.6" />
<line x1="32.8" y1="341.0" x2="34.2" y2="341.0" stroke="#111" stroke-width="0.6" />
<line x1="32.8" y1="337.7" x2="34.2" y2="337.7" stroke="#111" stroke-width="0.6" />
<line x1="32.8" y1="334.4" x2="34.2" y2="334.4" stroke="#111" stroke-width="0.6" />
<line x1="32.8" y1="331.1" x2="34.2" y2="331.1" stroke="#111" stroke-width="0.6" />
<line x1="32.8" y1="327.8" x2="34.2" y2="327.8" stroke="#111" stroke-width="0.6" />
<line x1="32.8" y1="324.4" x2="34.2" y2="324.4" stroke="#111" stroke-width="0.6" />
<line x1="32.8" y1="321.1" x2="34.2" y2="321.1" stroke="#111" stroke-width="0.6" />
<line x1="32.8" y1="317.8" x2="34.2" y2="317.8" stroke="#111" stroke-width="0.6" />
<line x1="32.8" y1="314.5" x2="34.2" y2="314.5" stroke="#111" stroke-width="0.6" />
<line x1="32.8" y1="311.2" x2="34.2" y2="311.2" stroke="#111" stroke-width="0.6" />
<line x1="32.8" y1="307.9" x2="34.2" y2="307.9" stroke="#111" stroke-width="0.6" />
<line x1="32.8" y1="304.6" x2="34.2" y2="304.6" stroke="#111" stroke-width="0.6" />
<line x1="32.8" y1="301.3" x2="34.2" y2="301.3" stroke="#111" stroke-width="0.6" />
<line x1="32.8" y1="298.0" x2="34.2" y2="298.0" stroke="#111" stroke-width="0.6" />
<line x1="32.8" y1="294.7" x2="34.2" y2="294.7" stroke="#111" stroke-width="0.6" />
<line x1="31.5" y1="360.8" x2="34.2" y2="360.8" stroke="#111" stroke-width="0.8" />
<text x="28.2" y="363.0" font-size="6.2" text-anchor="end" fill="#222" font-weight="normal" stroke="#222" stroke-width="0.1" >0</text>
<line x1="31.5" y1="327.8" x2="34.2" y2="327.8" stroke="#111" stroke-width="0.8" />
<text x="28.2" y="330.0" font-size="6.2" text-anchor="end" fill="#222" font-weight="normal" stroke="#222" stroke-width="0.1" >50</text>
<line x1="31.5" y1="294.7" x2="34.2" y2="294.7" stroke="#111" stroke-width="0.8" />
<text x="28.2" y="296.9" font-size="6.2" text-anchor="end" fill="#222" font-weight="normal" stroke="#222" stroke-width="0.1" >100</text>
<line x1="33.7" y1="360.8" x2="126.0" y2="360.8" stroke="#111" stroke-width="1.2" />
<line x1="34.2" y1="360.8" x2="34.2" y2="363.3" stroke="#111" stroke-width="0.8" />
<text x="34.2" y="372.4" font-size="6.3" text-anchor="middle" fill="#222" font-weight="normal" stroke="#222" stroke-width="0.1" >0</text>
<line x1="69.3" y1="360.8" x2="69.3" y2="363.3" stroke="#111" stroke-width="0.8" />
<text x="69.3" y="372.4" font-size="6.3" text-anchor="middle" fill="#222" font-weight="normal" stroke="#222" stroke-width="0.1" >100</text>
<line x1="104.4" y1="360.8" x2="104.4" y2="363.3" stroke="#111" stroke-width="0.8" />
<text x="104.4" y="372.4" font-size="6.3" text-anchor="middle" fill="#222" font-weight="normal" stroke="#222" stroke-width="0.1" >200</text>
<line x1="34.2" y1="360.8" x2="34.2" y2="362.2" stroke="#111" stroke-width="0.6" />
<line x1="37.7" y1="360.8" x2="37.7" y2="362.2" stroke="#111" stroke-width="0.6" />
<line x1="41.2" y1="360.8" x2="41.2" y2="362.2" stroke="#111" stroke-width="0.6" />
<line x1="44.7" y1="360.8" x2="44.7" y2="362.2" stroke="#111" stroke-width="0.6" />
<line x1="48.2" y1="360.8" x2="48.2" y2="362.2" stroke="#111" stroke-width="0.6" />
<line x1="51.8" y1="360.8" x2="51.8" y2="362.2" stroke="#111" stroke-width="0.6" />
<line x1="55.3" y1="360.8" x2="55.3" y2="362.2" stroke="#111" stroke-width="0.6" />
<line x1="58.8" y1="360.8" x2="58.8" y2="362.2" stroke="#111" stroke-width="0.6" />
<line x1="62.3" y1="360.8" x2="62.3" y2="362.2" stroke="#111" stroke-width="0.6" />
<line x1="65.8" y1="360.8" x2="65.8" y2="362.2" stroke="#111" stroke-width="0.6" />
<line x1="69.3" y1="360.8" x2="69.3" y2="362.2" stroke="#111" stroke-width="0.6" />
<line x1="72.8" y1="360.8" x2="72.8" y2="362.2" stroke="#111" stroke-width="0.6" />
<line x1="76.3" y1="360.8" x2="76.3" y2="362.2" stroke="#111" stroke-width="0.6" />
<line x1="79.8" y1="360.8" x2="79.8" y2="362.2" stroke="#111" stroke-width="0.6" />
<line x1="83.3" y1="360.8" x2="83.3" y2="362.2" stroke="#111" stroke-width="0.6" />
<line x1="86.8" y1="360.8" x2="86.8" y2="362.2" stroke="#111" stroke-width="0.6" />
<line x1="90.4" y1="360.8" x2="90.4" y2="362.2" stroke="#111" stroke-width="0.6" />
<line x1="93.9" y1="360.8" x2="93.9" y2="362.2" stroke="#111" stroke-width="0.6" />
<line x1="97.4" y1="360.8" x2="97.4" y2="362.2" stroke="#111" stroke-width="0.6" />
<line x1="100.9" y1="360.8" x2="100.9" y2="362.2" stroke="#111" stroke-width="0.6" />
<line x1="104.4" y1="360.8" x2="104.4" y2="362.2" stroke="#111" stroke-width="0.6" />
<line x1="107.9" y1="360.8" x2="107.9" y2="362.2" stroke="#111" stroke-width="0.6" />
<line x1="111.4" y1="360.8" x2="111.4" y2="362.2" stroke="#111" stroke-width="0.6" />
<line x1="114.9" y1="360.8" x2="114.9" y2="362.2" stroke="#111" stroke-width="0.6" />
<line x1="118.4" y1="360.8" x2="118.4" y2="362.2" stroke="#111" stroke-width="0.6" />
<line x1="122.0" y1="360.8" x2="122.0" y2="362.2" stroke="#111" stroke-width="0.6" />
<text x="80.0" y="383.7" font-size="8.0" text-anchor="middle" fill="#111" font-weight="normal" textLength="73.8" lengthAdjust="spacingAndGlyphs" stroke="#111" stroke-width="0.27">Days after tumor implantation</text>
<text transform="translate(10.0,324.2) rotate(-90)" x="0" y="2.7" font-size="7.6" text-anchor="middle" fill="#111" font-weight="normal" textLength="59" lengthAdjust="spacingAndGlyphs" stroke="#111" stroke-width="0.24">Disease-specific survival</text>
<path d="M34.2,294.7 H125.1 V294.7" fill="none" stroke="#c878c8" stroke-width="0.8"/>
<path d="M34.2,294.7 H57.0 V321.1 H86.8 V334.4 H103.0 V347.6 H109.3 V360.8" fill="none" stroke="#7cbd5e" stroke-width="0.8"/>
<path d="M34.2,294.7 H55.6 V307.9 H76.0 V325.6 H96.3 V343.2 H125.1 V343.2" fill="none" stroke="#3a6ea5" stroke-width="0.8"/>
<path d="M34.2,294.7 H53.5 V307.9 H58.1 V321.1 H59.8 V334.4 H60.9 V347.6 H117.0 V360.8" fill="none" stroke="#e8473f" stroke-width="0.8"/>
<line x1="63.0" y1="293.4" x2="63.0" y2="296.0" stroke="#c878c8" stroke-width="0.7" />
<line x1="125.1" y1="293.4" x2="125.1" y2="296.0" stroke="#c878c8" stroke-width="0.7" />
<line x1="63.0" y1="306.6" x2="63.0" y2="309.2" stroke="#3a6ea5" stroke-width="0.7" />
<line x1="125.1" y1="341.9" x2="125.1" y2="344.5" stroke="#3a6ea5" stroke-width="0.7" />
<line x1="92.0" y1="299.3" x2="100.6" y2="299.3" stroke="#e8473f" stroke-width="0.6" stroke-opacity="0.6"/>
<g opacity="0.6">
<polygon points="95.2,300.2 97.4,300.2 96.3,298.2" fill="#e8473f"/>
</g>
<text x="103.5" y="301.2" font-size="5.3" text-anchor="start" fill="#222" font-weight="normal" stroke="#222" stroke-width="0.1" >no treatment</text>
<line x1="92.0" y1="305.5" x2="100.6" y2="305.5" stroke="#3a6ea5" stroke-width="0.6" stroke-opacity="0.6"/>
<g opacity="0.6">
<polygon points="95.2,306.4 97.4,306.4 96.3,304.4" fill="#3a6ea5"/>
</g>
<text x="103.5" y="307.4" font-size="5.3" text-anchor="start" fill="#222" font-weight="normal" stroke="#222" stroke-width="0.1" >CD3xCD3 3 µg</text>
<line x1="92.0" y1="311.6" x2="100.6" y2="311.6" stroke="#7cbd5e" stroke-width="0.6" stroke-opacity="0.6"/>
<g opacity="0.6">
<polygon points="95.2,312.5 97.4,312.5 96.3,310.5" fill="#7cbd5e"/>
</g>
<text x="103.5" y="313.5" font-size="5.3" text-anchor="start" fill="#222" font-weight="normal" stroke="#222" stroke-width="0.1" >CD3xCD3 10 µg</text>
<line x1="92.0" y1="317.8" x2="100.6" y2="317.8" stroke="#c878c8" stroke-width="0.6" stroke-opacity="0.6"/>
<g opacity="0.6">
<polygon points="95.2,318.7 97.4,318.7 96.3,316.7" fill="#c878c8"/>
</g>
<text x="103.5" y="319.7" font-size="5.3" text-anchor="start" fill="#222" font-weight="normal" stroke="#222" stroke-width="0.1" >CD3xCD3 30 µg</text>
<line x1="179.6" y1="286.0" x2="179.6" y2="361.3" stroke="#111" stroke-width="1.1" />
<line x1="177.5" y1="360.8" x2="271.0" y2="360.8" stroke="#111" stroke-width="1.2" />
<line x1="176.5" y1="360.8" x2="179.6" y2="360.8" stroke="#111" stroke-width="0.8" />
<text x="174.3" y="363.0" font-size="6.2" text-anchor="end" fill="#222" font-weight="normal" stroke="#222" stroke-width="0.1" >0</text>
<line x1="176.5" y1="336.5" x2="179.6" y2="336.5" stroke="#111" stroke-width="0.8" />
<text x="174.3" y="338.7" font-size="6.2" text-anchor="end" fill="#222" font-weight="normal" stroke="#222" stroke-width="0.1" >10</text>
<line x1="176.5" y1="312.2" x2="179.6" y2="312.2" stroke="#111" stroke-width="0.8" />
<text x="174.3" y="314.4" font-size="6.2" text-anchor="end" fill="#222" font-weight="normal" stroke="#222" stroke-width="0.1" >20</text>
<line x1="176.5" y1="287.9" x2="179.6" y2="287.9" stroke="#111" stroke-width="0.8" />
<text x="174.3" y="290.1" font-size="6.2" text-anchor="end" fill="#222" font-weight="normal" stroke="#222" stroke-width="0.1" >30</text>
<line x1="185.4" y1="360.8" x2="185.4" y2="363.2" stroke="#111" stroke-width="0.8" />
<text x="183.8" y="372.2" font-size="5.9" text-anchor="middle" fill="#222">10</text><text x="187.6" y="369.5" font-size="3.4" fill="#222">2</text>
<line x1="205.2" y1="360.8" x2="205.2" y2="363.2" stroke="#111" stroke-width="0.8" />
<text x="203.7" y="372.2" font-size="5.9" text-anchor="middle" fill="#222">10</text><text x="207.4" y="369.5" font-size="3.4" fill="#222">3</text>
<line x1="225.1" y1="360.8" x2="225.1" y2="363.2" stroke="#111" stroke-width="0.8" />
<text x="223.5" y="372.2" font-size="5.9" text-anchor="middle" fill="#222">10</text><text x="227.3" y="369.5" font-size="3.4" fill="#222">4</text>
<line x1="245.0" y1="360.8" x2="245.0" y2="363.2" stroke="#111" stroke-width="0.8" />
<text x="243.4" y="372.2" font-size="5.9" text-anchor="middle" fill="#222">10</text><text x="247.2" y="369.5" font-size="3.4" fill="#222">5</text>
<line x1="264.8" y1="360.8" x2="264.8" y2="363.2" stroke="#111" stroke-width="0.8" />
<text x="263.2" y="372.2" font-size="5.9" text-anchor="middle" fill="#222">10</text><text x="267.0" y="369.5" font-size="3.4" fill="#222">6</text>
<text x="225.2" y="383.6" font-size="8.0" text-anchor="middle" fill="#111" font-weight="normal" textLength="15.5" lengthAdjust="spacingAndGlyphs" stroke="#111" stroke-width="0.27">T cells</text>
<text transform="translate(159.9,324.2) rotate(-90)" x="0" y="2.8" font-size="7.8" text-anchor="middle" fill="#111" font-weight="normal" textLength="23" lengthAdjust="spacingAndGlyphs" stroke="#111" stroke-width="0.24">huCD3 ct</text>
<line x1="185.4" y1="299.6" x2="264.8" y2="331.9" stroke="#3a6f9f" stroke-width="0.9" />
<circle cx="185.4" cy="300.1" r="1.5" fill="#173d5e"/>
<circle cx="205.2" cy="307.3" r="1.5" fill="#173d5e"/>
<circle cx="225.1" cy="314.1" r="1.5" fill="#173d5e"/>
<circle cx="245.0" cy="323.6" r="1.5" fill="#173d5e"/>
<circle cx="264.8" cy="331.6" r="1.5" fill="#173d5e"/>
<text x="233.3" y="299.3" font-size="6.2" fill="#222" stroke="#222" stroke-width="0.1">R<tspan font-size="3.8" dy="-2.5">2</tspan><tspan dy="2.5"> = 0.9969</tspan></text>
<line x1="320.8" y1="286.0" x2="320.8" y2="364.0" stroke="#111" stroke-width="1.3" />
<line x1="318.5" y1="363.5" x2="414.7" y2="363.5" stroke="#111" stroke-width="1.2" />
<line x1="318.0" y1="363.5" x2="321.0" y2="363.5" stroke="#111" stroke-width="0.8" />
<text x="315.3" y="366.0" font-size="6.3" text-anchor="end" fill="#222" font-weight="normal" stroke="#222" stroke-width="0.1" >0</text>
<line x1="318.0" y1="344.6" x2="321.0" y2="344.6" stroke="#111" stroke-width="0.8" />
<text x="315.3" y="347.0" font-size="6.3" text-anchor="end" fill="#222" font-weight="normal" stroke="#222" stroke-width="0.1" >10000</text>
<line x1="318.0" y1="325.6" x2="321.0" y2="325.6" stroke="#111" stroke-width="0.8" />
<text x="315.3" y="328.1" font-size="6.3" text-anchor="end" fill="#222" font-weight="normal" stroke="#222" stroke-width="0.1" >20000</text>
<line x1="318.0" y1="306.6" x2="321.0" y2="306.6" stroke="#111" stroke-width="0.8" />
<text x="315.3" y="309.1" font-size="6.3" text-anchor="end" fill="#222" font-weight="normal" stroke="#222" stroke-width="0.1" >30000</text>
<line x1="318.0" y1="287.7" x2="321.0" y2="287.7" stroke="#111" stroke-width="0.8" />
<text x="315.3" y="290.2" font-size="6.3" text-anchor="end" fill="#222" font-weight="normal" stroke="#222" stroke-width="0.1" >40000</text>
<text transform="translate(288.2,324.2) rotate(-90)" x="0" y="2.7" font-size="7.4" text-anchor="middle" fill="#111" font-weight="normal" textLength="43" lengthAdjust="spacingAndGlyphs" stroke="#111" stroke-width="0.22">T cells per mouse</text>
<rect x="325.3" y="352.1" width="5.4" height="11.4" fill="#8a98c4"/>
<circle cx="328.0" cy="352.1" r="1.5" fill="#1c3f66"/>
<line x1="328.0" y1="363.5" x2="328.0" y2="365.6" stroke="#111" stroke-width="0.7" />
<rect x="335.0" y="360.7" width="5.4" height="2.8" fill="#8a98c4"/>
<circle cx="337.7" cy="360.7" r="1.5" fill="#1c3f66"/>
<line x1="337.7" y1="363.5" x2="337.7" y2="365.6" stroke="#111" stroke-width="0.7" />
<rect x="345.1" y="362.0" width="5.4" height="1.5" fill="#8a98c4"/>
<circle cx="347.8" cy="362.0" r="1.5" fill="#1c3f66"/>
<line x1="347.8" y1="363.5" x2="347.8" y2="365.6" stroke="#111" stroke-width="0.7" />
<rect x="355.2" y="296.2" width="5.4" height="67.3" fill="#8a98c4"/>
<circle cx="357.9" cy="296.2" r="1.5" fill="#1c3f66"/>
<line x1="357.9" y1="363.5" x2="357.9" y2="365.6" stroke="#111" stroke-width="0.7" />
<rect x="364.9" y="363.3" width="5.4" height="0.2" fill="#8a98c4"/>
<circle cx="367.6" cy="363.3" r="1.5" fill="#1c3f66"/>
<line x1="367.6" y1="363.5" x2="367.6" y2="365.6" stroke="#111" stroke-width="0.7" />
<rect x="375.4" y="360.7" width="5.4" height="2.8" fill="#8a98c4"/>
<circle cx="378.1" cy="360.7" r="1.5" fill="#1c3f66"/>
<line x1="378.1" y1="363.5" x2="378.1" y2="365.6" stroke="#111" stroke-width="0.7" />
<rect x="385.1" y="363.1" width="5.4" height="0.4" fill="#8a98c4"/>
<circle cx="387.8" cy="363.1" r="1.5" fill="#1c3f66"/>
<line x1="387.8" y1="363.5" x2="387.8" y2="365.6" stroke="#111" stroke-width="0.7" />
<rect x="395.1" y="363.1" width="5.4" height="0.4" fill="#8a98c4"/>
<circle cx="397.8" cy="363.1" r="1.5" fill="#1c3f66"/>
<line x1="397.8" y1="363.5" x2="397.8" y2="365.6" stroke="#111" stroke-width="0.7" />
<rect x="405.0" y="363.1" width="5.4" height="0.4" fill="#8a98c4"/>
<circle cx="407.7" cy="363.1" r="1.5" fill="#1c3f66"/>
<line x1="407.7" y1="363.5" x2="407.7" y2="365.6" stroke="#111" stroke-width="0.7" />
<path d="M344.9,366.6 V367.9 H361.8 V366.6" fill="none" stroke="#222" stroke-width="0.7"/>
<path d="M364.6,366.6 V367.9 H413.7 V366.6" fill="none" stroke="#222" stroke-width="0.7"/>
<text transform="translate(329.8,373.4) rotate(-45)" x="0" y="0" font-size="6.4" text-anchor="end" fill="#222">no tx</text>
<text transform="translate(339.4,373.4) rotate(-45)" x="0" y="0" font-size="6.4" text-anchor="end" fill="#222">3 µg</text>
<text transform="translate(354.1,373.4) rotate(-45)" x="0" y="0" font-size="6.4" text-anchor="end" fill="#222">10 µg</text>
<text transform="translate(390.1,373.4) rotate(-45)" x="0" y="0" font-size="6.4" text-anchor="end" fill="#222">30 µg</text>
<clipPath id="jc"><rect x="436.0" y="284.3" width="65.2" height="82.5"/></clipPath>
<filter id="jb" x="-5%" y="-5%" width="110%" height="110%"><feGaussianBlur stdDeviation="0.35"/></filter>
<g clip-path="url(#jc)">
<rect x="436.0" y="284.3" width="65.2" height="82.5" fill="#f6f0f1"/>
<g filter="url(#jb)">
<ellipse cx="478" cy="295" rx="12" ry="7" fill="#e6b0a0" fill-opacity="0.3"/>
<ellipse cx="483" cy="325" rx="7" ry="14" fill="#e8b8a8" fill-opacity="0.25"/>
<ellipse cx="460" cy="339" rx="15" ry="7" fill="#e8b4a4" fill-opacity="0.3"/>
<ellipse cx="494" cy="352" rx="6" ry="7" fill="#e4aa98" fill-opacity="0.3"/>
<ellipse cx="447" cy="315" rx="8" ry="20" fill="#d8daee" fill-opacity="0.2"/>
<ellipse cx="450" cy="355" rx="13" ry="9" fill="#d6d8ec" fill-opacity="0.25"/>
<ellipse cx="470" cy="323.5" rx="7.5" ry="8.8" fill="#fbf6f4" fill-opacity="0.9"/>
<circle cx="484.2" cy="301.6" r="1.44" fill="#b85a48" fill-opacity="0.71"/>
<circle cx="483.0" cy="294.3" r="0.98" fill="#c0604a" fill-opacity="0.76"/>
<circle cx="478.3" cy="296.5" r="1.16" fill="#a84c40" fill-opacity="0.52"/>
<circle cx="479.7" cy="292.6" r="1.25" fill="#cc7a66" fill-opacity="0.68"/>
<circle cx="484.9" cy="301.0" r="1.29" fill="#c0604a" fill-opacity="0.59"/>
<circle cx="494.6" cy="292.9" r="1.44" fill="#cc7a66" fill-opacity="0.53"/>
<circle cx="468.5" cy="292.6" r="1.37" fill="#b85a48" fill-opacity="0.68"/>
<circle cx="472.2" cy="299.1" r="0.90" fill="#8a90c6" fill-opacity="0.88"/>
<circle cx="484.9" cy="301.7" r="1.11" fill="#c0604a" fill-opacity="0.84"/>
<circle cx="479.9" cy="301.7" r="1.20" fill="#b85a48" fill-opacity="0.78"/>
<circle cx="481.6" cy="291.1" r="0.78" fill="#5a62ac" fill-opacity="0.53"/>
<circle cx="483.4" cy="287.0" r="1.09" fill="#dc9c88" fill-opacity="0.80"/>
<circle cx="477.9" cy="294.2" r="0.89" fill="#dc9c88" fill-opacity="0.89"/>
<circle cx="479.6" cy="296.6" r="0.74" fill="#a84c40" fill-opacity="0.63"/>
<circle cx="478.1" cy="300.0" r="1.44" fill="#b85a48" fill-opacity="0.84"/>
<circle cx="472.0" cy="295.5" r="1.06" fill="#dc9c88" fill-opacity="0.93"/>
<circle cx="468.7" cy="301.3" r="0.93" fill="#8a90c6" fill-opacity="0.74"/>
<circle cx="468.4" cy="291.0" r="1.21" fill="#d08068" fill-opacity="0.84"/>
<circle cx="473.9" cy="296.9" r="1.35" fill="#c0604a" fill-opacity="0.79"/>
<circle cx="485.0" cy="299.4" r="1.17" fill="#b85a48" fill-opacity="0.58"/>
<circle cx="481.4" cy="292.4" r="1.23" fill="#cc7a66" fill-opacity="0.89"/>
<circle cx="475.2" cy="295.4" r="0.87" fill="#dc9c88" fill-opacity="0.93"/>
<circle cx="485.2" cy="301.7" r="1.07" fill="#cc7a66" fill-opacity="0.76"/>
<circle cx="475.3" cy="294.5" r="0.93" fill="#cc7a66" fill-opacity="0.81"/>
<circle cx="486.7" cy="282.4" r="0.78" fill="#a84c40" fill-opacity="0.53"/>
<circle cx="491.1" cy="299.1" r="1.41" fill="#cc7a66" fill-opacity="0.81"/>
<circle cx="475.5" cy="289.6" r="0.87" fill="#4a52a0" fill-opacity="0.52"/>
<circle cx="472.5" cy="296.5" r="1.02" fill="#dc9c88" fill-opacity="0.86"/>
<circle cx="481.6" cy="299.3" r="1.17" fill="#a84c40" fill-opacity="0.84"/>
<circle cx="470.2" cy="286.4" r="1.06" fill="#b85a48" fill-opacity="0.72"/>
<circle cx="475.3" cy="299.6" r="0.82" fill="#c0604a" fill-opacity="0.59"/>
<circle cx="482.4" cy="300.4" r="1.05" fill="#dc9c88" fill-opacity="0.55"/>
<circle cx="472.1" cy="301.2" r="0.94" fill="#c0604a" fill-opacity="0.61"/>
<circle cx="480.6" cy="292.6" r="1.22" fill="#cc7a66" fill-opacity="0.82"/>
<circle cx="482.4" cy="299.2" r="0.91" fill="#dc9c88" fill-opacity="0.58"/>
<circle cx="480.1" cy="294.7" r="0.71" fill="#6c72b6" fill-opacity="0.73"/>
<circle cx="488.6" cy="296.7" r="1.41" fill="#c0604a" fill-opacity="0.57"/>
<circle cx="483.1" cy="294.4" r="0.80" fill="#b85a48" fill-opacity="0.86"/>
<circle cx="481.1" cy="299.7" r="1.39" fill="#cc7a66" fill-opacity="0.90"/>
<circle cx="488.7" cy="290.1" r="1.07" fill="#c0604a" fill-opacity="0.74"/>
<circle cx="468.9" cy="293.7" r="0.90" fill="#b85a48" fill-opacity="0.66"/>
<circle cx="474.7" cy="301.7" r="0.84" fill="#c0604a" fill-opacity="0.54"/>
<circle cx="481.6" cy="290.8" r="1.07" fill="#cc7a66" fill-opacity="0.81"/>
<circle cx="487.0" cy="292.4" r="1.42" fill="#dc9c88" fill-opacity="0.69"/>
<circle cx="475.5" cy="298.1" r="1.10" fill="#cc7a66" fill-opacity="0.78"/>
<circle cx="483.8" cy="302.0" r="1.31" fill="#a84c40" fill-opacity="0.91"/>
<circle cx="475.6" cy="291.8" r="1.15" fill="#7a80bc" fill-opacity="0.55"/>
<circle cx="476.0" cy="298.2" r="0.71" fill="#d08068" fill-opacity="0.66"/>
<circle cx="469.7" cy="290.5" r="0.84" fill="#b85a48" fill-opacity="0.94"/>
<circle cx="471.5" cy="294.6" r="1.38" fill="#d08068" fill-opacity="0.61"/>
<circle cx="472.0" cy="292.3" r="0.80" fill="#7a80bc" fill-opacity="0.51"/>
<circle cx="486.7" cy="292.3" r="0.82" fill="#c0604a" fill-opacity="0.80"/>
<circle cx="471.2" cy="291.3" r="0.89" fill="#b85a48" fill-opacity="0.69"/>
<circle cx="482.7" cy="289.0" r="0.86" fill="#dc9c88" fill-opacity="0.57"/>
<circle cx="479.3" cy="296.0" r="1.13" fill="#6c72b6" fill-opacity="0.95"/>
<circle cx="479.9" cy="298.4" r="1.20" fill="#a84c40" fill-opacity="0.51"/>
<circle cx="481.7" cy="293.7" r="1.17" fill="#cc7a66" fill-opacity="0.77"/>
<circle cx="472.4" cy="285.6" r="1.25" fill="#d08068" fill-opacity="0.71"/>
<circle cx="490.0" cy="302.5" r="1.26" fill="#c0604a" fill-opacity="0.61"/>
<circle cx="487.1" cy="301.1" r="0.92" fill="#cc7a66" fill-opacity="0.60"/>
<circle cx="480.5" cy="300.7" r="1.38" fill="#dc9c88" fill-opacity="0.91"/>
<circle cx="476.9" cy="294.9" r="1.22" fill="#d08068" fill-opacity="0.69"/>
<circle cx="489.8" cy="302.2" r="0.87" fill="#dc9c88" fill-opacity="0.82"/>
<circle cx="468.1" cy="295.5" r="1.18" fill="#c0604a" fill-opacity="0.66"/>
<circle cx="470.4" cy="301.9" r="1.14" fill="#cc7a66" fill-opacity="0.70"/>
<circle cx="463.9" cy="356.8" r="1.38" fill="#7a80bc" fill-opacity="0.84"/>
<circle cx="456.8" cy="348.2" r="1.27" fill="#c0604a" fill-opacity="0.59"/>
<circle cx="465.4" cy="354.0" r="1.31" fill="#dc9c88" fill-opacity="0.68"/>
<circle cx="477.8" cy="347.2" r="0.73" fill="#8a90c6" fill-opacity="0.72"/>
<circle cx="474.0" cy="344.7" r="0.76" fill="#dc9c88" fill-opacity="0.93"/>
<circle cx="464.4" cy="342.7" r="0.98" fill="#d08068" fill-opacity="0.72"/>
<circle cx="470.9" cy="352.5" r="1.27" fill="#5a62ac" fill-opacity="0.57"/>
<circle cx="460.4" cy="350.8" r="0.74" fill="#b85a48" fill-opacity="0.84"/>
<circle cx="468.2" cy="348.5" r="1.07" fill="#4a52a0" fill-opacity="0.64"/>
<circle cx="459.2" cy="351.3" r="0.82" fill="#b85a48" fill-opacity="0.60"/>
<circle cx="464.6" cy="341.3" r="1.10" fill="#d08068" fill-opacity="0.67"/>
<circle cx="459.7" cy="354.3" r="0.81" fill="#a84c40" fill-opacity="0.67"/>
<circle cx="462.0" cy="342.8" r="0.88" fill="#c0604a" fill-opacity="0.95"/>
<circle cx="457.9" cy="352.5" r="0.72" fill="#a84c40" fill-opacity="0.76"/>
<circle cx="467.4" cy="347.6" r="1.29" fill="#5a62ac" fill-opacity="0.89"/>
<circle cx="475.2" cy="344.4" r="1.20" fill="#dc9c88" fill-opacity="0.60"/>
<circle cx="471.7" cy="356.5" r="1.09" fill="#5a62ac" fill-opacity="0.52"/>
<circle cx="459.4" cy="351.2" r="0.92" fill="#dc9c88" fill-opacity="0.85"/>
<circle cx="471.2" cy="349.1" r="1.17" fill="#8a90c6" fill-opacity="0.64"/>
<circle cx="450.1" cy="356.8" r="0.91" fill="#c0604a" fill-opacity="0.85"/>
<circle cx="463.8" cy="346.7" r="1.34" fill="#b85a48" fill-opacity="0.78"/>
<circle cx="463.9" cy="352.9" r="0.88" fill="#4a52a0" fill-opacity="0.64"/>
<circle cx="458.8" cy="353.0" r="1.16" fill="#4a52a0" fill-opacity="0.90"/>
<circle cx="448.2" cy="350.4" r="1.16" fill="#dc9c88" fill-opacity="0.94"/>
<circle cx="459.7" cy="344.5" r="1.38" fill="#cc7a66" fill-opacity="0.78"/>
<circle cx="477.3" cy="349.4" r="1.18" fill="#dc9c88" fill-opacity="0.78"/>
<circle cx="482.4" cy="352.8" r="1.01" fill="#cc7a66" fill-opacity="0.94"/>
<circle cx="472.4" cy="343.7" r="0.92" fill="#cc7a66" fill-opacity="0.84"/>
<circle cx="462.5" cy="350.5" r="1.19" fill="#a84c40" fill-opacity="0.75"/>
<circle cx="463.1" cy="345.0" r="0.74" fill="#cc7a66" fill-opacity="0.54"/>
<circle cx="464.0" cy="351.8" r="1.19" fill="#b85a48" fill-opacity="0.71"/>
<circle cx="471.3" cy="283.2" r="1.10" fill="#8a90c6" fill-opacity="0.84"/>
<circle cx="447.2" cy="281.0" r="1.41" fill="#4a52a0" fill-opacity="0.58"/>
<circle cx="477.1" cy="284.5" r="0.89" fill="#cc7a66" fill-opacity="0.89"/>
<circle cx="444.0" cy="286.1" r="1.18" fill="#5a62ac" fill-opacity="0.81"/>
<circle cx="499.0" cy="286.9" r="1.02" fill="#5a62ac" fill-opacity="0.51"/>
<circle cx="444.1" cy="280.1" r="1.07" fill="#8a90c6" fill-opacity="0.76"/>
<circle cx="472.4" cy="286.5" r="1.10" fill="#6c72b6" fill-opacity="0.73"/>
<circle cx="467.2" cy="288.5" r="0.95" fill="#4a52a0" fill-opacity="0.86"/>
<circle cx="446.9" cy="284.8" r="1.34" fill="#c0604a" fill-opacity="0.72"/>
<circle cx="444.3" cy="289.8" r="0.81" fill="#b85a48" fill-opacity="0.92"/>
<circle cx="456.9" cy="283.9" r="0.73" fill="#d08068" fill-opacity="0.93"/>
<circle cx="472.5" cy="284.8" r="0.76" fill="#6c72b6" fill-opacity="0.83"/>
<circle cx="446.2" cy="289.4" r="0.81" fill="#6c72b6" fill-opacity="0.73"/>
<circle cx="494.1" cy="289.5" r="1.31" fill="#8a90c6" fill-opacity="0.84"/>
<circle cx="489.5" cy="284.0" r="1.28" fill="#4a52a0" fill-opacity="0.83"/>
<circle cx="492.3" cy="285.5" r="0.93" fill="#5a62ac" fill-opacity="0.88"/>
<circle cx="461.6" cy="291.6" r="0.77" fill="#dc9c88" fill-opacity="0.62"/>
<circle cx="450.1" cy="282.3" r="0.95" fill="#8a90c6" fill-opacity="0.60"/>
<circle cx="454.4" cy="284.8" r="0.78" fill="#8a90c6" fill-opacity="0.73"/>
<circle cx="473.5" cy="286.4" r="0.84" fill="#8a90c6" fill-opacity="0.86"/>
<circle cx="461.6" cy="285.6" r="1.13" fill="#5a62ac" fill-opacity="0.92"/>
<circle cx="466.6" cy="288.1" r="1.22" fill="#c0604a" fill-opacity="0.88"/>
<circle cx="468.6" cy="289.9" r="1.44" fill="#d08068" fill-opacity="0.83"/>
<circle cx="467.6" cy="287.5" r="1.11" fill="#a84c40" fill-opacity="0.77"/>
<circle cx="458.1" cy="290.6" r="1.34" fill="#7a80bc" fill-opacity="0.87"/>
<circle cx="463.2" cy="285.2" r="0.80" fill="#c0604a" fill-opacity="0.77"/>
<circle cx="477.2" cy="285.0" r="0.89" fill="#4a52a0" fill-opacity="0.81"/>
<circle cx="473.6" cy="282.6" r="0.75" fill="#6c72b6" fill-opacity="0.94"/>
<circle cx="467.0" cy="284.7" r="0.82" fill="#c0604a" fill-opacity="0.71"/>
<circle cx="454.3" cy="284.1" r="0.71" fill="#cc7a66" fill-opacity="0.94"/>
<circle cx="472.2" cy="285.8" r="1.39" fill="#8a90c6" fill-opacity="0.79"/>
<circle cx="479.4" cy="292.7" r="0.80" fill="#b85a48" fill-opacity="0.66"/>
<circle cx="459.8" cy="288.1" r="1.35" fill="#d08068" fill-opacity="0.51"/>
<circle cx="456.1" cy="285.7" r="1.13" fill="#4a52a0" fill-opacity="0.86"/>
<circle cx="481.2" cy="290.1" r="1.03" fill="#7a80bc" fill-opacity="0.81"/>
<circle cx="470.7" cy="290.0" r="1.06" fill="#6c72b6" fill-opacity="0.93"/>
<circle cx="468.3" cy="289.8" r="1.05" fill="#d08068" fill-opacity="0.78"/>
<circle cx="425.2" cy="289.5" r="0.87" fill="#8a90c6" fill-opacity="0.79"/>
<circle cx="490.7" cy="311.8" r="0.98" fill="#b85a48" fill-opacity="0.76"/>
<circle cx="486.0" cy="312.0" r="1.10" fill="#dc9c88" fill-opacity="0.65"/>
<circle cx="482.4" cy="318.3" r="0.79" fill="#a84c40" fill-opacity="0.84"/>
<circle cx="485.6" cy="337.9" r="1.21" fill="#cc7a66" fill-opacity="0.57"/>
<circle cx="485.2" cy="333.4" r="1.00" fill="#8a90c6" fill-opacity="0.52"/>
<circle cx="479.8" cy="324.1" r="1.34" fill="#dc9c88" fill-opacity="0.95"/>
<circle cx="478.7" cy="317.2" r="1.28" fill="#6c72b6" fill-opacity="0.91"/>
<circle cx="484.5" cy="303.1" r="0.97" fill="#a84c40" fill-opacity="0.68"/>
<circle cx="483.4" cy="315.4" r="1.41" fill="#d08068" fill-opacity="0.52"/>
<circle cx="484.2" cy="326.2" r="1.04" fill="#dc9c88" fill-opacity="0.54"/>
<circle cx="479.6" cy="308.6" r="1.38" fill="#7a80bc" fill-opacity="0.77"/>
<circle cx="482.4" cy="325.1" r="0.95" fill="#b85a48" fill-opacity="0.93"/>
<circle cx="492.4" cy="325.2" r="0.96" fill="#d08068" fill-opacity="0.70"/>
<circle cx="483.8" cy="317.8" r="1.08" fill="#a84c40" fill-opacity="0.62"/>
<circle cx="485.4" cy="309.1" r="0.97" fill="#5a62ac" fill-opacity="0.77"/>
<circle cx="480.5" cy="324.1" r="0.84" fill="#d08068" fill-opacity="0.90"/>
<circle cx="481.0" cy="329.3" r="1.30" fill="#dc9c88" fill-opacity="0.94"/>
<circle cx="485.0" cy="347.7" r="0.79" fill="#a84c40" fill-opacity="0.75"/>
<circle cx="489.1" cy="304.6" r="1.20" fill="#b85a48" fill-opacity="0.82"/>
<circle cx="484.3" cy="323.3" r="1.38" fill="#c0604a" fill-opacity="0.84"/>
<circle cx="480.6" cy="320.2" r="1.33" fill="#c0604a" fill-opacity="0.64"/>
<circle cx="483.1" cy="309.1" r="1.03" fill="#b85a48" fill-opacity="0.95"/>
<circle cx="488.3" cy="317.5" r="1.03" fill="#5a62ac" fill-opacity="0.56"/>
<circle cx="486.5" cy="343.7" r="0.98" fill="#d08068" fill-opacity="0.83"/>
<circle cx="476.7" cy="315.2" r="0.79" fill="#cc7a66" fill-opacity="0.61"/>
<circle cx="486.3" cy="332.4" r="1.20" fill="#cc7a66" fill-opacity="0.72"/>
<circle cx="480.7" cy="313.9" r="0.92" fill="#b85a48" fill-opacity="0.62"/>
<circle cx="481.6" cy="333.9" r="1.30" fill="#b85a48" fill-opacity="0.74"/>
<circle cx="482.3" cy="332.1" r="1.27" fill="#cc7a66" fill-opacity="0.91"/>
<circle cx="482.1" cy="322.2" r="1.04" fill="#cc7a66" fill-opacity="0.82"/>
<circle cx="477.7" cy="324.5" r="1.31" fill="#8a90c6" fill-opacity="0.68"/>
<circle cx="487.9" cy="313.1" r="1.33" fill="#cc7a66" fill-opacity="0.78"/>
<circle cx="481.0" cy="323.1" r="1.02" fill="#c0604a" fill-opacity="0.83"/>
<circle cx="479.8" cy="322.2" r="0.75" fill="#cc7a66" fill-opacity="0.70"/>
<circle cx="485.8" cy="320.8" r="0.76" fill="#4a52a0" fill-opacity="0.72"/>
<circle cx="484.2" cy="322.9" r="0.87" fill="#4a52a0" fill-opacity="0.84"/>
<circle cx="489.6" cy="314.7" r="1.10" fill="#dc9c88" fill-opacity="0.60"/>
<circle cx="484.4" cy="322.5" r="1.16" fill="#dc9c88" fill-opacity="0.71"/>
<circle cx="485.7" cy="342.3" r="0.97" fill="#7a80bc" fill-opacity="0.86"/>
<circle cx="478.4" cy="325.4" r="1.37" fill="#c0604a" fill-opacity="0.84"/>
<circle cx="484.6" cy="318.1" r="1.18" fill="#5a62ac" fill-opacity="0.72"/>
<circle cx="478.9" cy="335.9" r="1.32" fill="#b85a48" fill-opacity="0.51"/>
<circle cx="486.0" cy="319.0" r="1.02" fill="#cc7a66" fill-opacity="0.76"/>
<circle cx="486.0" cy="335.9" r="1.22" fill="#d08068" fill-opacity="0.89"/>
<circle cx="471.0" cy="341.6" r="0.75" fill="#7a80bc" fill-opacity="0.68"/>
<circle cx="448.6" cy="332.3" r="1.44" fill="#cc7a66" fill-opacity="0.63"/>
<circle cx="467.9" cy="333.0" r="1.10" fill="#6c72b6" fill-opacity="0.95"/>
<circle cx="468.9" cy="338.0" r="1.28" fill="#8a90c6" fill-opacity="0.78"/>
<circle cx="467.0" cy="339.2" r="1.08" fill="#6c72b6" fill-opacity="0.71"/>
<circle cx="451.2" cy="335.0" r="1.42" fill="#c0604a" fill-opacity="0.87"/>
<circle cx="460.8" cy="341.1" r="1.18" fill="#c0604a" fill-opacity="0.89"/>
<circle cx="454.6" cy="330.8" r="0.79" fill="#c0604a" fill-opacity="0.89"/>
<circle cx="449.2" cy="346.3" r="0.77" fill="#6c72b6" fill-opacity="0.55"/>
<circle cx="467.7" cy="344.5" r="0.71" fill="#5a62ac" fill-opacity="0.81"/>
<circle cx="470.9" cy="343.6" r="1.03" fill="#a84c40" fill-opacity="0.73"/>
<circle cx="456.5" cy="331.2" r="1.44" fill="#a84c40" fill-opacity="0.59"/>
<circle cx="453.2" cy="341.4" r="1.33" fill="#cc7a66" fill-opacity="0.66"/>
<circle cx="469.9" cy="337.7" r="1.02" fill="#7a80bc" fill-opacity="0.70"/>
<circle cx="469.4" cy="343.5" r="0.88" fill="#d08068" fill-opacity="0.85"/>
<circle cx="459.3" cy="330.8" r="0.72" fill="#c0604a" fill-opacity="0.59"/>
<circle cx="461.4" cy="336.1" r="0.89" fill="#a84c40" fill-opacity="0.65"/>
<circle cx="447.3" cy="333.1" r="1.14" fill="#d08068" fill-opacity="0.59"/>
<circle cx="458.1" cy="331.4" r="1.38" fill="#c0604a" fill-opacity="0.55"/>
<circle cx="479.8" cy="336.6" r="1.01" fill="#cc7a66" fill-opacity="0.53"/>
<circle cx="462.2" cy="338.2" r="1.23" fill="#d08068" fill-opacity="0.57"/>
<circle cx="439.2" cy="341.4" r="1.25" fill="#cc7a66" fill-opacity="0.59"/>
<circle cx="452.5" cy="329.6" r="1.19" fill="#7a80bc" fill-opacity="0.61"/>
<circle cx="460.6" cy="330.7" r="1.30" fill="#d08068" fill-opacity="0.71"/>
<circle cx="477.8" cy="334.9" r="1.28" fill="#8a90c6" fill-opacity="0.74"/>
<circle cx="455.9" cy="331.8" r="1.25" fill="#c0604a" fill-opacity="0.83"/>
<circle cx="441.8" cy="337.8" r="1.30" fill="#8a90c6" fill-opacity="0.73"/>
<circle cx="452.3" cy="344.8" r="1.29" fill="#b85a48" fill-opacity="0.67"/>
<circle cx="454.5" cy="332.8" r="1.10" fill="#c0604a" fill-opacity="0.79"/>
<circle cx="468.1" cy="334.6" r="1.13" fill="#d08068" fill-opacity="0.59"/>
<circle cx="445.4" cy="332.4" r="0.75" fill="#dc9c88" fill-opacity="0.65"/>
<circle cx="470.5" cy="337.2" r="1.11" fill="#d08068" fill-opacity="0.63"/>
<circle cx="439.5" cy="340.3" r="0.93" fill="#5a62ac" fill-opacity="0.51"/>
<circle cx="441.2" cy="340.8" r="1.44" fill="#4a52a0" fill-opacity="0.84"/>
<circle cx="484.6" cy="335.9" r="0.86" fill="#cc7a66" fill-opacity="0.53"/>
<circle cx="447.3" cy="344.8" r="0.88" fill="#b85a48" fill-opacity="0.82"/>
<circle cx="444.6" cy="335.3" r="0.72" fill="#6c72b6" fill-opacity="0.68"/>
<circle cx="445.0" cy="333.1" r="0.79" fill="#b85a48" fill-opacity="0.70"/>
<circle cx="449.2" cy="339.9" r="1.22" fill="#dc9c88" fill-opacity="0.83"/>
<circle cx="447.9" cy="338.7" r="0.91" fill="#c0604a" fill-opacity="0.76"/>
<circle cx="468.2" cy="340.9" r="0.95" fill="#cc7a66" fill-opacity="0.82"/>
<circle cx="439.7" cy="338.8" r="1.10" fill="#4a52a0" fill-opacity="0.77"/>
<circle cx="460.6" cy="344.0" r="0.84" fill="#c0604a" fill-opacity="0.72"/>
<circle cx="454.0" cy="342.0" r="1.22" fill="#d08068" fill-opacity="0.87"/>
<circle cx="451.2" cy="338.2" r="1.42" fill="#c0604a" fill-opacity="0.83"/>
<circle cx="468.0" cy="336.2" r="1.39" fill="#a84c40" fill-opacity="0.54"/>
<circle cx="451.8" cy="341.3" r="1.31" fill="#8a90c6" fill-opacity="0.69"/>
<circle cx="446.0" cy="337.6" r="1.06" fill="#8a90c6" fill-opacity="0.52"/>
<circle cx="461.8" cy="346.7" r="0.82" fill="#d08068" fill-opacity="0.65"/>
<circle cx="460.2" cy="343.8" r="1.25" fill="#6c72b6" fill-opacity="0.71"/>
<circle cx="467.8" cy="344.5" r="0.81" fill="#cc7a66" fill-opacity="0.71"/>
<circle cx="476.9" cy="341.1" r="1.14" fill="#7a80bc" fill-opacity="0.93"/>
<circle cx="456.1" cy="336.7" r="1.17" fill="#d08068" fill-opacity="0.92"/>
<circle cx="458.9" cy="327.7" r="0.78" fill="#b85a48" fill-opacity="0.51"/>
<circle cx="457.3" cy="329.4" r="0.89" fill="#5a62ac" fill-opacity="0.87"/>
<circle cx="457.9" cy="338.5" r="0.99" fill="#dc9c88" fill-opacity="0.88"/>
<circle cx="460.1" cy="334.2" r="0.90" fill="#cc7a66" fill-opacity="0.77"/>
<circle cx="465.5" cy="334.7" r="0.83" fill="#4a52a0" fill-opacity="0.91"/>
<circle cx="455.3" cy="338.2" r="1.26" fill="#a84c40" fill-opacity="0.88"/>
<circle cx="453.4" cy="338.5" r="0.81" fill="#b85a48" fill-opacity="0.54"/>
<circle cx="452.5" cy="338.8" r="1.13" fill="#dc9c88" fill-opacity="0.72"/>
<circle cx="464.6" cy="335.9" r="1.25" fill="#6c72b6" fill-opacity="0.73"/>
<circle cx="446.4" cy="337.6" r="0.78" fill="#d08068" fill-opacity="0.78"/>
<circle cx="475.9" cy="337.7" r="1.27" fill="#c0604a" fill-opacity="0.66"/>
<circle cx="476.5" cy="337.5" r="1.17" fill="#b85a48" fill-opacity="0.87"/>
<circle cx="473.9" cy="337.0" r="1.39" fill="#b85a48" fill-opacity="0.58"/>
<circle cx="473.3" cy="345.2" r="1.11" fill="#7a80bc" fill-opacity="0.75"/>
<circle cx="473.5" cy="334.9" r="1.06" fill="#5a62ac" fill-opacity="0.80"/>
<circle cx="466.3" cy="339.9" r="1.40" fill="#c0604a" fill-opacity="0.63"/>
<circle cx="472.2" cy="348.8" r="1.11" fill="#cc7a66" fill-opacity="0.57"/>
<circle cx="483.2" cy="337.7" r="0.90" fill="#c0604a" fill-opacity="0.85"/>
<circle cx="478.7" cy="333.5" r="0.78" fill="#d08068" fill-opacity="0.56"/>
<circle cx="478.8" cy="328.5" r="0.72" fill="#a84c40" fill-opacity="0.60"/>
<circle cx="465.7" cy="335.1" r="0.95" fill="#8a90c6" fill-opacity="0.77"/>
<circle cx="478.1" cy="334.9" r="1.21" fill="#d08068" fill-opacity="0.54"/>
<circle cx="473.8" cy="334.1" r="1.10" fill="#7a80bc" fill-opacity="0.82"/>
<circle cx="471.7" cy="337.1" r="1.12" fill="#cc7a66" fill-opacity="0.53"/>
<circle cx="479.4" cy="333.0" r="0.73" fill="#d08068" fill-opacity="0.86"/>
<circle cx="477.2" cy="336.8" r="1.40" fill="#7a80bc" fill-opacity="0.59"/>
<circle cx="474.9" cy="331.4" r="1.23" fill="#6c72b6" fill-opacity="0.57"/>
<circle cx="480.3" cy="334.4" r="0.78" fill="#6c72b6" fill-opacity="0.59"/>
<circle cx="475.0" cy="334.5" r="1.28" fill="#b85a48" fill-opacity="0.87"/>
<circle cx="478.2" cy="340.8" r="0.76" fill="#8a90c6" fill-opacity="0.71"/>
<circle cx="477.2" cy="335.3" r="1.31" fill="#d08068" fill-opacity="0.81"/>
<circle cx="470.4" cy="347.5" r="0.89" fill="#d08068" fill-opacity="0.91"/>
<circle cx="470.8" cy="329.1" r="1.05" fill="#c0604a" fill-opacity="0.93"/>
<circle cx="476.3" cy="336.9" r="1.16" fill="#4a52a0" fill-opacity="0.69"/>
<circle cx="474.7" cy="339.1" r="1.07" fill="#cc7a66" fill-opacity="0.89"/>
<circle cx="476.6" cy="333.5" r="1.25" fill="#7a80bc" fill-opacity="0.82"/>
<circle cx="452.2" cy="317.6" r="1.33" fill="#5a62ac" fill-opacity="0.71"/>
<circle cx="445.4" cy="303.5" r="1.43" fill="#cc7a66" fill-opacity="0.66"/>
<circle cx="454.5" cy="332.7" r="0.98" fill="#5a62ac" fill-opacity="0.79"/>
<circle cx="447.8" cy="294.1" r="0.99" fill="#8a90c6" fill-opacity="0.94"/>
<circle cx="444.5" cy="350.0" r="0.74" fill="#5a62ac" fill-opacity="0.53"/>
<circle cx="435.8" cy="319.0" r="1.15" fill="#5a62ac" fill-opacity="0.53"/>
<circle cx="443.0" cy="294.3" r="1.10" fill="#7a80bc" fill-opacity="0.77"/>
<circle cx="437.2" cy="307.3" r="1.07" fill="#b85a48" fill-opacity="0.52"/>
<circle cx="444.3" cy="291.7" r="0.76" fill="#4a52a0" fill-opacity="0.75"/>
<circle cx="449.7" cy="302.1" r="0.83" fill="#c0604a" fill-opacity="0.75"/>
<circle cx="443.2" cy="298.3" r="1.07" fill="#5a62ac" fill-opacity="0.74"/>
<circle cx="438.2" cy="301.6" r="1.12" fill="#d08068" fill-opacity="0.66"/>
<circle cx="444.3" cy="301.7" r="1.43" fill="#4a52a0" fill-opacity="0.58"/>
<circle cx="441.1" cy="309.6" r="0.95" fill="#5a62ac" fill-opacity="0.62"/>
<circle cx="452.0" cy="330.5" r="0.76" fill="#4a52a0" fill-opacity="0.85"/>
<circle cx="453.2" cy="316.5" r="0.75" fill="#8a90c6" fill-opacity="0.89"/>
<circle cx="448.3" cy="312.5" r="1.15" fill="#8a90c6" fill-opacity="0.67"/>
<circle cx="451.9" cy="310.8" r="0.83" fill="#8a90c6" fill-opacity="0.75"/>
<circle cx="451.4" cy="299.7" r="1.34" fill="#5a62ac" fill-opacity="0.73"/>
<circle cx="442.6" cy="306.7" r="1.10" fill="#4a52a0" fill-opacity="0.76"/>
<circle cx="441.2" cy="318.4" r="1.29" fill="#5a62ac" fill-opacity="0.75"/>
<circle cx="448.6" cy="332.8" r="1.12" fill="#8a90c6" fill-opacity="0.79"/>
<circle cx="447.0" cy="332.6" r="1.23" fill="#5a62ac" fill-opacity="0.87"/>
<circle cx="450.9" cy="321.4" r="0.91" fill="#4a52a0" fill-opacity="0.65"/>
<circle cx="448.2" cy="342.8" r="1.42" fill="#dc9c88" fill-opacity="0.75"/>
<circle cx="456.1" cy="320.0" r="1.06" fill="#8a90c6" fill-opacity="0.61"/>
<circle cx="439.2" cy="290.7" r="0.99" fill="#5a62ac" fill-opacity="0.82"/>
<circle cx="453.5" cy="311.5" r="0.84" fill="#8a90c6" fill-opacity="0.89"/>
<circle cx="441.7" cy="311.6" r="1.03" fill="#5a62ac" fill-opacity="0.80"/>
<circle cx="457.9" cy="316.7" r="1.35" fill="#8a90c6" fill-opacity="0.77"/>
<circle cx="452.0" cy="326.8" r="0.74" fill="#c0604a" fill-opacity="0.78"/>
<circle cx="447.4" cy="290.9" r="1.34" fill="#8a90c6" fill-opacity="0.67"/>
<circle cx="445.0" cy="310.6" r="0.73" fill="#4a52a0" fill-opacity="0.63"/>
<circle cx="442.1" cy="328.9" r="1.01" fill="#5a62ac" fill-opacity="0.66"/>
<circle cx="447.7" cy="306.4" r="1.41" fill="#8a90c6" fill-opacity="0.53"/>
<circle cx="440.0" cy="306.9" r="1.10" fill="#4a52a0" fill-opacity="0.72"/>
<circle cx="436.7" cy="336.2" r="1.41" fill="#5a62ac" fill-opacity="0.81"/>
<circle cx="448.9" cy="337.1" r="1.42" fill="#4a52a0" fill-opacity="0.77"/>
<circle cx="443.3" cy="290.5" r="0.91" fill="#8a90c6" fill-opacity="0.57"/>
<circle cx="441.1" cy="308.6" r="1.02" fill="#8a90c6" fill-opacity="0.72"/>
<circle cx="446.3" cy="308.3" r="1.34" fill="#7a80bc" fill-opacity="0.63"/>
<circle cx="440.5" cy="298.3" r="1.01" fill="#8a90c6" fill-opacity="0.92"/>
<circle cx="448.6" cy="335.6" r="0.95" fill="#6c72b6" fill-opacity="0.83"/>
<circle cx="447.9" cy="311.6" r="1.28" fill="#8a90c6" fill-opacity="0.79"/>
<circle cx="439.8" cy="299.2" r="1.14" fill="#7a80bc" fill-opacity="0.53"/>
<circle cx="454.8" cy="332.3" r="1.16" fill="#cc7a66" fill-opacity="0.67"/>
<circle cx="442.5" cy="295.5" r="1.05" fill="#5a62ac" fill-opacity="0.86"/>
<circle cx="444.1" cy="299.5" r="1.40" fill="#7a80bc" fill-opacity="0.58"/>
<circle cx="444.7" cy="325.7" r="1.02" fill="#7a80bc" fill-opacity="0.76"/>
<circle cx="441.1" cy="335.8" r="1.24" fill="#5a62ac" fill-opacity="0.95"/>
<circle cx="446.2" cy="326.6" r="0.73" fill="#5a62ac" fill-opacity="0.54"/>
<circle cx="438.3" cy="336.8" r="1.03" fill="#a84c40" fill-opacity="0.80"/>
<circle cx="448.1" cy="317.7" r="1.01" fill="#4a52a0" fill-opacity="0.86"/>
<circle cx="448.5" cy="324.0" r="1.25" fill="#4a52a0" fill-opacity="0.51"/>
<circle cx="426.6" cy="327.0" r="1.17" fill="#6c72b6" fill-opacity="0.91"/>
<circle cx="435.1" cy="342.1" r="1.33" fill="#dc9c88" fill-opacity="0.85"/>
<circle cx="453.5" cy="319.2" r="0.70" fill="#8a90c6" fill-opacity="0.52"/>
<circle cx="445.2" cy="301.5" r="1.05" fill="#b85a48" fill-opacity="0.54"/>
<circle cx="441.0" cy="313.5" r="1.18" fill="#7a80bc" fill-opacity="0.63"/>
<circle cx="445.5" cy="311.1" r="1.32" fill="#4a52a0" fill-opacity="0.64"/>
<circle cx="443.1" cy="326.9" r="1.16" fill="#6c72b6" fill-opacity="0.70"/>
<circle cx="445.2" cy="301.7" r="0.91" fill="#cc7a66" fill-opacity="0.88"/>
<circle cx="457.7" cy="296.5" r="0.87" fill="#5a62ac" fill-opacity="0.79"/>
<circle cx="459.4" cy="298.3" r="1.27" fill="#cc7a66" fill-opacity="0.91"/>
<circle cx="456.4" cy="294.7" r="1.11" fill="#7a80bc" fill-opacity="0.74"/>
<circle cx="448.6" cy="290.9" r="0.86" fill="#b85a48" fill-opacity="0.51"/>
<circle cx="446.3" cy="296.5" r="1.27" fill="#7a80bc" fill-opacity="0.70"/>
<circle cx="449.0" cy="298.7" r="0.97" fill="#5a62ac" fill-opacity="0.79"/>
<circle cx="443.9" cy="294.5" r="0.84" fill="#5a62ac" fill-opacity="0.58"/>
<circle cx="457.3" cy="297.8" r="1.35" fill="#7a80bc" fill-opacity="0.86"/>
<circle cx="461.0" cy="299.8" r="1.31" fill="#5a62ac" fill-opacity="0.88"/>
<circle cx="439.2" cy="295.4" r="0.93" fill="#cc7a66" fill-opacity="0.51"/>
<circle cx="447.6" cy="302.3" r="0.86" fill="#a84c40" fill-opacity="0.54"/>
<circle cx="454.4" cy="294.7" r="1.23" fill="#4a52a0" fill-opacity="0.75"/>
<circle cx="451.6" cy="299.7" r="0.81" fill="#a84c40" fill-opacity="0.78"/>
<circle cx="494.9" cy="299.3" r="1.19" fill="#cc7a66" fill-opacity="0.55"/>
<circle cx="496.3" cy="322.2" r="1.10" fill="#b85a48" fill-opacity="0.93"/>
<circle cx="493.1" cy="329.0" r="1.35" fill="#7a80bc" fill-opacity="0.54"/>
<circle cx="491.8" cy="315.8" r="1.06" fill="#6c72b6" fill-opacity="0.91"/>
<circle cx="495.2" cy="310.8" r="1.07" fill="#8a90c6" fill-opacity="0.61"/>
<circle cx="489.5" cy="330.3" r="1.11" fill="#5a62ac" fill-opacity="0.62"/>
<circle cx="497.2" cy="324.4" r="1.11" fill="#4a52a0" fill-opacity="0.90"/>
<circle cx="495.3" cy="323.9" r="1.45" fill="#4a52a0" fill-opacity="0.62"/>
<circle cx="492.3" cy="286.2" r="1.16" fill="#4a52a0" fill-opacity="0.60"/>
<circle cx="486.6" cy="308.8" r="1.08" fill="#5a62ac" fill-opacity="0.73"/>
<circle cx="488.4" cy="315.6" r="0.75" fill="#4a52a0" fill-opacity="0.94"/>
<circle cx="491.4" cy="339.0" r="1.26" fill="#b85a48" fill-opacity="0.88"/>
<circle cx="494.5" cy="335.7" r="1.37" fill="#a84c40" fill-opacity="0.64"/>
<circle cx="496.6" cy="306.2" r="1.11" fill="#5a62ac" fill-opacity="0.87"/>
<circle cx="493.9" cy="296.1" r="1.44" fill="#8a90c6" fill-opacity="0.70"/>
<circle cx="495.3" cy="327.8" r="1.27" fill="#8a90c6" fill-opacity="0.90"/>
<circle cx="493.4" cy="317.0" r="1.02" fill="#4a52a0" fill-opacity="0.78"/>
<circle cx="500.6" cy="320.7" r="1.05" fill="#7a80bc" fill-opacity="0.70"/>
<circle cx="496.3" cy="313.3" r="1.21" fill="#6c72b6" fill-opacity="0.85"/>
<circle cx="495.1" cy="320.2" r="1.30" fill="#c0604a" fill-opacity="0.91"/>
<circle cx="498.0" cy="309.3" r="1.41" fill="#4a52a0" fill-opacity="0.91"/>
<circle cx="499.7" cy="322.0" r="0.84" fill="#b85a48" fill-opacity="0.63"/>
<circle cx="490.8" cy="335.7" r="1.00" fill="#d08068" fill-opacity="0.60"/>
<circle cx="493.3" cy="316.1" r="1.04" fill="#5a62ac" fill-opacity="0.59"/>
<circle cx="489.2" cy="318.1" r="1.14" fill="#5a62ac" fill-opacity="0.94"/>
<circle cx="496.2" cy="313.6" r="1.17" fill="#c0604a" fill-opacity="0.87"/>
<circle cx="493.4" cy="325.4" r="1.36" fill="#c0604a" fill-opacity="0.62"/>
<circle cx="493.7" cy="313.0" r="1.33" fill="#5a62ac" fill-opacity="0.92"/>
<circle cx="489.4" cy="303.3" r="1.18" fill="#6c72b6" fill-opacity="0.83"/>
<circle cx="489.8" cy="324.7" r="1.24" fill="#7a80bc" fill-opacity="0.89"/>
<circle cx="493.7" cy="304.2" r="0.90" fill="#cc7a66" fill-opacity="0.68"/>
<circle cx="497.0" cy="345.3" r="1.10" fill="#cc7a66" fill-opacity="0.69"/>
<circle cx="495.3" cy="305.8" r="0.92" fill="#8a90c6" fill-opacity="0.86"/>
<circle cx="458.1" cy="343.2" r="1.44" fill="#7a80bc" fill-opacity="0.87"/>
<circle cx="453.0" cy="366.9" r="1.34" fill="#5a62ac" fill-opacity="0.78"/>
<circle cx="463.9" cy="352.7" r="1.42" fill="#8a90c6" fill-opacity="0.58"/>
<circle cx="436.1" cy="355.5" r="1.20" fill="#5a62ac" fill-opacity="0.87"/>
<circle cx="457.0" cy="354.0" r="1.37" fill="#7a80bc" fill-opacity="0.66"/>
<circle cx="452.4" cy="337.9" r="0.84" fill="#6c72b6" fill-opacity="0.84"/>
<circle cx="447.2" cy="341.2" r="0.99" fill="#8a90c6" fill-opacity="0.94"/>
<circle cx="443.6" cy="359.7" r="1.27" fill="#6c72b6" fill-opacity="0.89"/>
<circle cx="450.9" cy="348.8" r="1.33" fill="#5a62ac" fill-opacity="0.71"/>
<circle cx="451.6" cy="348.6" r="1.26" fill="#5a62ac" fill-opacity="0.91"/>
<circle cx="443.6" cy="364.8" r="0.90" fill="#8a90c6" fill-opacity="0.69"/>
<circle cx="449.7" cy="360.2" r="1.00" fill="#6c72b6" fill-opacity="0.76"/>
<circle cx="445.4" cy="355.5" r="1.37" fill="#b85a48" fill-opacity="0.51"/>
<circle cx="442.0" cy="360.1" r="1.11" fill="#7a80bc" fill-opacity="0.78"/>
<circle cx="445.3" cy="358.4" r="0.89" fill="#5a62ac" fill-opacity="0.91"/>
<circle cx="456.9" cy="354.5" r="0.94" fill="#5a62ac" fill-opacity="0.82"/>
<circle cx="447.8" cy="359.6" r="1.35" fill="#4a52a0" fill-opacity="0.74"/>
<circle cx="457.1" cy="352.4" r="1.04" fill="#4a52a0" fill-opacity="0.74"/>
<circle cx="462.8" cy="338.4" r="1.06" fill="#8a90c6" fill-opacity="0.74"/>
<circle cx="459.6" cy="355.3" r="1.11" fill="#4a52a0" fill-opacity="0.85"/>
<circle cx="452.6" cy="354.9" r="1.25" fill="#8a90c6" fill-opacity="0.51"/>
<circle cx="445.9" cy="361.3" r="1.14" fill="#7a80bc" fill-opacity="0.88"/>
<circle cx="440.8" cy="359.1" r="1.12" fill="#6c72b6" fill-opacity="0.90"/>
<circle cx="429.9" cy="343.0" r="1.39" fill="#7a80bc" fill-opacity="0.95"/>
<circle cx="442.0" cy="354.8" r="1.30" fill="#4a52a0" fill-opacity="0.70"/>
<circle cx="441.8" cy="372.8" r="1.38" fill="#5a62ac" fill-opacity="0.83"/>
<circle cx="437.7" cy="355.1" r="0.89" fill="#5a62ac" fill-opacity="0.51"/>
<circle cx="471.4" cy="354.2" r="1.23" fill="#7a80bc" fill-opacity="0.64"/>
<circle cx="448.9" cy="353.9" r="1.08" fill="#8a90c6" fill-opacity="0.56"/>
<circle cx="449.7" cy="364.9" r="1.27" fill="#7a80bc" fill-opacity="0.92"/>
<circle cx="452.8" cy="372.5" r="1.43" fill="#7a80bc" fill-opacity="0.92"/>
<circle cx="452.8" cy="353.5" r="1.39" fill="#c0604a" fill-opacity="0.62"/>
<circle cx="453.9" cy="366.2" r="0.73" fill="#cc7a66" fill-opacity="0.57"/>
<circle cx="454.1" cy="349.5" r="1.39" fill="#4a52a0" fill-opacity="0.50"/>
<circle cx="438.8" cy="349.1" r="1.43" fill="#7a80bc" fill-opacity="0.79"/>
<circle cx="445.3" cy="356.0" r="1.11" fill="#cc7a66" fill-opacity="0.67"/>
<circle cx="462.3" cy="359.0" r="1.35" fill="#7a80bc" fill-opacity="0.61"/>
<circle cx="463.1" cy="357.4" r="1.40" fill="#d08068" fill-opacity="0.80"/>
<circle cx="436.9" cy="354.3" r="0.97" fill="#6c72b6" fill-opacity="0.72"/>
<circle cx="438.8" cy="358.6" r="1.41" fill="#d08068" fill-opacity="0.72"/>
<circle cx="437.8" cy="354.3" r="1.34" fill="#8a90c6" fill-opacity="0.67"/>
<circle cx="450.0" cy="353.8" r="0.78" fill="#4a52a0" fill-opacity="0.62"/>
<circle cx="444.9" cy="369.6" r="0.81" fill="#8a90c6" fill-opacity="0.70"/>
<circle cx="425.1" cy="347.8" r="1.36" fill="#8a90c6" fill-opacity="0.56"/>
<circle cx="453.9" cy="356.0" r="1.01" fill="#5a62ac" fill-opacity="0.55"/>
<circle cx="447.3" cy="354.6" r="1.25" fill="#6c72b6" fill-opacity="0.61"/>
<circle cx="471.1" cy="363.1" r="0.88" fill="#4a52a0" fill-opacity="0.52"/>
<circle cx="459.0" cy="348.6" r="0.71" fill="#b85a48" fill-opacity="0.85"/>
<circle cx="457.1" cy="353.6" r="1.11" fill="#4a52a0" fill-opacity="0.57"/>
<circle cx="460.4" cy="357.2" r="0.86" fill="#6c72b6" fill-opacity="0.64"/>
<circle cx="442.2" cy="345.0" r="0.87" fill="#c0604a" fill-opacity="0.86"/>
<circle cx="453.0" cy="358.8" r="1.07" fill="#6c72b6" fill-opacity="0.79"/>
<circle cx="448.6" cy="355.3" r="0.71" fill="#5a62ac" fill-opacity="0.68"/>
<circle cx="446.3" cy="362.5" r="1.03" fill="#7a80bc" fill-opacity="0.56"/>
<circle cx="439.6" cy="347.1" r="1.15" fill="#dc9c88" fill-opacity="0.82"/>
<circle cx="445.1" cy="352.5" r="1.16" fill="#4a52a0" fill-opacity="0.64"/>
<circle cx="449.1" cy="363.0" r="1.29" fill="#4a52a0" fill-opacity="0.84"/>
<circle cx="446.5" cy="352.8" r="1.44" fill="#4a52a0" fill-opacity="0.75"/>
<circle cx="438.2" cy="350.6" r="1.20" fill="#8a90c6" fill-opacity="0.65"/>
<circle cx="454.5" cy="353.3" r="1.00" fill="#8a90c6" fill-opacity="0.88"/>
<circle cx="449.2" cy="367.3" r="1.03" fill="#6c72b6" fill-opacity="0.51"/>
<circle cx="436.3" cy="361.5" r="1.15" fill="#7a80bc" fill-opacity="0.72"/>
<circle cx="436.2" cy="357.8" r="1.37" fill="#5a62ac" fill-opacity="0.81"/>
<circle cx="432.5" cy="353.7" r="0.76" fill="#8a90c6" fill-opacity="0.85"/>
<circle cx="431.7" cy="350.2" r="0.74" fill="#6c72b6" fill-opacity="0.87"/>
<circle cx="461.4" cy="352.6" r="1.15" fill="#a84c40" fill-opacity="0.67"/>
<circle cx="448.5" cy="354.4" r="0.76" fill="#a84c40" fill-opacity="0.93"/>
<circle cx="458.9" cy="353.3" r="1.43" fill="#5a62ac" fill-opacity="0.75"/>
<circle cx="453.4" cy="351.4" r="0.88" fill="#7a80bc" fill-opacity="0.86"/>
<circle cx="449.7" cy="360.8" r="1.02" fill="#5a62ac" fill-opacity="0.80"/>
<circle cx="453.7" cy="357.4" r="1.01" fill="#7a80bc" fill-opacity="0.58"/>
<circle cx="447.7" cy="352.0" r="1.35" fill="#6c72b6" fill-opacity="0.76"/>
<circle cx="448.9" cy="357.5" r="0.76" fill="#6c72b6" fill-opacity="0.91"/>
<circle cx="451.3" cy="353.5" r="0.98" fill="#7a80bc" fill-opacity="0.64"/>
<circle cx="448.5" cy="338.8" r="1.07" fill="#b85a48" fill-opacity="0.90"/>
<circle cx="465.1" cy="359.7" r="0.72" fill="#8a90c6" fill-opacity="0.54"/>
<circle cx="439.0" cy="360.1" r="0.80" fill="#4a52a0" fill-opacity="0.69"/>
<circle cx="442.4" cy="363.8" r="0.73" fill="#4a52a0" fill-opacity="0.71"/>
<circle cx="449.6" cy="352.5" r="0.85" fill="#8a90c6" fill-opacity="0.91"/>
<circle cx="437.5" cy="359.5" r="1.02" fill="#5a62ac" fill-opacity="0.93"/>
<circle cx="494.9" cy="350.0" r="0.84" fill="#cc7a66" fill-opacity="0.74"/>
<circle cx="492.9" cy="337.4" r="0.78" fill="#6c72b6" fill-opacity="0.88"/>
<circle cx="484.1" cy="356.9" r="1.07" fill="#6c72b6" fill-opacity="0.52"/>
<circle cx="500.9" cy="363.9" r="1.04" fill="#6c72b6" fill-opacity="0.86"/>
<circle cx="498.3" cy="357.7" r="1.19" fill="#cc7a66" fill-opacity="0.67"/>
<circle cx="498.7" cy="348.8" r="1.22" fill="#6c72b6" fill-opacity="0.71"/>
<circle cx="502.8" cy="361.2" r="1.19" fill="#8a90c6" fill-opacity="0.51"/>
<circle cx="485.3" cy="348.4" r="0.77" fill="#d08068" fill-opacity="0.54"/>
<circle cx="491.6" cy="361.6" r="0.77" fill="#b85a48" fill-opacity="0.54"/>
<circle cx="481.5" cy="344.8" r="1.40" fill="#5a62ac" fill-opacity="0.94"/>
<circle cx="492.6" cy="364.0" r="0.81" fill="#b85a48" fill-opacity="0.80"/>
<circle cx="495.4" cy="349.4" r="1.09" fill="#7a80bc" fill-opacity="0.82"/>
<circle cx="489.4" cy="359.0" r="0.93" fill="#d08068" fill-opacity="0.87"/>
<circle cx="501.0" cy="360.9" r="0.93" fill="#8a90c6" fill-opacity="0.86"/>
<circle cx="486.2" cy="359.2" r="0.93" fill="#d08068" fill-opacity="0.87"/>
<circle cx="491.5" cy="346.6" r="1.05" fill="#8a90c6" fill-opacity="0.61"/>
<circle cx="492.6" cy="349.3" r="1.12" fill="#4a52a0" fill-opacity="0.72"/>
<circle cx="481.1" cy="357.4" r="1.02" fill="#8a90c6" fill-opacity="0.95"/>
<circle cx="482.1" cy="360.5" r="1.03" fill="#4a52a0" fill-opacity="0.76"/>
<circle cx="492.6" cy="341.2" r="1.19" fill="#cc7a66" fill-opacity="0.92"/>
<circle cx="490.1" cy="364.1" r="1.26" fill="#c0604a" fill-opacity="0.68"/>
<circle cx="494.3" cy="349.9" r="1.45" fill="#8a90c6" fill-opacity="0.67"/>
<circle cx="484.6" cy="352.8" r="0.72" fill="#dc9c88" fill-opacity="0.55"/>
<circle cx="510.3" cy="363.7" r="0.73" fill="#8a90c6" fill-opacity="0.83"/>
<circle cx="506.8" cy="354.4" r="0.77" fill="#cc7a66" fill-opacity="0.89"/>
<circle cx="481.8" cy="350.6" r="1.00" fill="#5a62ac" fill-opacity="0.77"/>
<circle cx="484.5" cy="354.5" r="1.27" fill="#d08068" fill-opacity="0.50"/>
<circle cx="492.8" cy="356.6" r="0.80" fill="#a84c40" fill-opacity="0.62"/>
<circle cx="487.3" cy="356.5" r="1.09" fill="#8a90c6" fill-opacity="0.84"/>
<circle cx="496.5" cy="362.6" r="1.44" fill="#6c72b6" fill-opacity="0.57"/>
<circle cx="497.1" cy="342.4" r="0.90" fill="#c0604a" fill-opacity="0.59"/>
<circle cx="490.6" cy="348.7" r="1.38" fill="#7a80bc" fill-opacity="0.86"/>
<circle cx="487.6" cy="365.7" r="1.29" fill="#5a62ac" fill-opacity="0.69"/>
<circle cx="489.8" cy="357.9" r="1.42" fill="#4a52a0" fill-opacity="0.52"/>
<circle cx="486.7" cy="338.8" r="1.06" fill="#dc9c88" fill-opacity="0.76"/>
<circle cx="483.8" cy="365.6" r="1.34" fill="#8a90c6" fill-opacity="0.53"/>
<circle cx="487.4" cy="341.1" r="1.21" fill="#c0604a" fill-opacity="0.89"/>
<circle cx="487.5" cy="354.5" r="0.83" fill="#c0604a" fill-opacity="0.74"/>
<circle cx="491.1" cy="344.7" r="1.16" fill="#4a52a0" fill-opacity="0.68"/>
<circle cx="497.9" cy="361.0" r="0.88" fill="#dc9c88" fill-opacity="0.87"/>
<circle cx="500.5" cy="345.3" r="0.91" fill="#4a52a0" fill-opacity="0.61"/>
<circle cx="484.3" cy="356.2" r="1.22" fill="#dc9c88" fill-opacity="0.76"/>
<circle cx="495.0" cy="356.2" r="1.33" fill="#4a52a0" fill-opacity="0.88"/>
<circle cx="488.6" cy="344.7" r="1.44" fill="#d08068" fill-opacity="0.71"/>
<circle cx="493.9" cy="354.8" r="0.77" fill="#d08068" fill-opacity="0.80"/>
<circle cx="489.9" cy="348.0" r="1.22" fill="#5a62ac" fill-opacity="0.67"/>
<circle cx="486.3" cy="354.9" r="1.12" fill="#8a90c6" fill-opacity="0.82"/>
<circle cx="497.4" cy="357.9" r="1.32" fill="#8a90c6" fill-opacity="0.72"/>
<circle cx="499.7" cy="363.0" r="1.24" fill="#5a62ac" fill-opacity="0.68"/>
<circle cx="489.3" cy="358.6" r="1.17" fill="#6c72b6" fill-opacity="0.85"/>
<circle cx="487.1" cy="357.7" r="1.31" fill="#d08068" fill-opacity="0.69"/>
<circle cx="484.5" cy="351.9" r="1.13" fill="#4a52a0" fill-opacity="0.95"/>
<circle cx="492.0" cy="349.1" r="0.83" fill="#c0604a" fill-opacity="0.90"/>
<circle cx="478.8" cy="364.6" r="0.99" fill="#cc7a66" fill-opacity="0.78"/>
<circle cx="486.8" cy="362.5" r="0.92" fill="#4a52a0" fill-opacity="0.92"/>
<circle cx="490.0" cy="353.1" r="0.77" fill="#4a52a0" fill-opacity="0.77"/>
<circle cx="489.1" cy="352.8" r="0.79" fill="#8a90c6" fill-opacity="0.80"/>
<circle cx="484.2" cy="339.3" r="1.05" fill="#8a90c6" fill-opacity="0.73"/>
<circle cx="497.6" cy="355.7" r="1.05" fill="#5a62ac" fill-opacity="0.65"/>
<circle cx="496.0" cy="351.0" r="1.25" fill="#6c72b6" fill-opacity="0.76"/>
<circle cx="496.3" cy="350.8" r="0.83" fill="#7a80bc" fill-opacity="0.65"/>
<circle cx="498.6" cy="355.0" r="0.91" fill="#b85a48" fill-opacity="0.80"/>
<circle cx="497.9" cy="348.2" r="0.82" fill="#c0604a" fill-opacity="0.51"/>
<circle cx="495.6" cy="343.8" r="0.85" fill="#dc9c88" fill-opacity="0.95"/>
<circle cx="498.4" cy="354.0" r="1.38" fill="#c0604a" fill-opacity="0.71"/>
<circle cx="496.8" cy="350.7" r="1.01" fill="#dc9c88" fill-opacity="0.79"/>
<circle cx="497.0" cy="344.2" r="1.02" fill="#7a80bc" fill-opacity="0.57"/>
<circle cx="496.0" cy="358.2" r="0.71" fill="#d08068" fill-opacity="0.65"/>
<circle cx="495.8" cy="346.5" r="1.09" fill="#c0604a" fill-opacity="0.65"/>
<circle cx="496.1" cy="347.7" r="0.71" fill="#a84c40" fill-opacity="0.62"/>
<circle cx="491.2" cy="348.1" r="0.73" fill="#dc9c88" fill-opacity="0.92"/>
<circle cx="493.4" cy="351.7" r="1.24" fill="#d08068" fill-opacity="0.52"/>
<circle cx="453.0" cy="311.7" r="0.95" fill="#4a52a0" fill-opacity="0.81"/>
<circle cx="459.3" cy="312.7" r="0.78" fill="#6c72b6" fill-opacity="0.77"/>
<circle cx="467.5" cy="305.7" r="1.34" fill="#dc9c88" fill-opacity="0.51"/>
<circle cx="459.7" cy="309.0" r="1.18" fill="#7a80bc" fill-opacity="0.93"/>
<circle cx="464.3" cy="314.0" r="1.19" fill="#c0604a" fill-opacity="0.57"/>
<circle cx="464.3" cy="309.0" r="1.20" fill="#5a62ac" fill-opacity="0.60"/>
<circle cx="464.9" cy="305.3" r="0.90" fill="#d08068" fill-opacity="0.80"/>
<circle cx="457.8" cy="307.7" r="0.82" fill="#a84c40" fill-opacity="0.59"/>
<circle cx="458.3" cy="307.3" r="1.07" fill="#5a62ac" fill-opacity="0.63"/>
<circle cx="463.1" cy="315.4" r="1.31" fill="#a84c40" fill-opacity="0.78"/>
<circle cx="451.3" cy="310.8" r="1.04" fill="#a84c40" fill-opacity="0.93"/>
<circle cx="464.1" cy="310.4" r="0.91" fill="#a84c40" fill-opacity="0.59"/>
<circle cx="469.5" cy="308.4" r="1.43" fill="#d08068" fill-opacity="0.91"/>
<circle cx="454.1" cy="306.3" r="1.07" fill="#b85a48" fill-opacity="0.51"/>
<circle cx="456.6" cy="313.9" r="1.22" fill="#7a80bc" fill-opacity="0.68"/>
<circle cx="454.2" cy="309.2" r="0.78" fill="#cc7a66" fill-opacity="0.87"/>
<circle cx="464.6" cy="311.1" r="0.90" fill="#d08068" fill-opacity="0.67"/>
<circle cx="465.2" cy="312.9" r="1.13" fill="#cc7a66" fill-opacity="0.78"/>
<circle cx="436.7" cy="341.8" r="1.35" fill="#b85a48" fill-opacity="0.53"/>
<circle cx="442.9" cy="347.2" r="1.33" fill="#5a62ac" fill-opacity="0.87"/>
<circle cx="445.4" cy="332.4" r="0.71" fill="#8a90c6" fill-opacity="0.70"/>
<circle cx="439.6" cy="325.7" r="1.09" fill="#5a62ac" fill-opacity="0.67"/>
<circle cx="435.9" cy="340.1" r="0.76" fill="#6c72b6" fill-opacity="0.89"/>
<circle cx="436.8" cy="325.3" r="1.37" fill="#5a62ac" fill-opacity="0.59"/>
<circle cx="440.6" cy="352.6" r="1.34" fill="#8a90c6" fill-opacity="0.72"/>
<circle cx="440.6" cy="338.4" r="1.36" fill="#dc9c88" fill-opacity="0.83"/>
<circle cx="438.6" cy="330.9" r="1.17" fill="#b85a48" fill-opacity="0.53"/>
<circle cx="438.4" cy="342.2" r="0.78" fill="#5a62ac" fill-opacity="0.85"/>
<circle cx="439.4" cy="339.1" r="1.26" fill="#8a90c6" fill-opacity="0.93"/>
<circle cx="438.4" cy="329.8" r="1.11" fill="#7a80bc" fill-opacity="0.56"/>
<circle cx="436.0" cy="349.8" r="1.09" fill="#5a62ac" fill-opacity="0.75"/>
<circle cx="472.6" cy="362.8" r="0.96" fill="#d08068" fill-opacity="0.50"/>
<circle cx="472.3" cy="357.9" r="0.94" fill="#d08068" fill-opacity="0.63"/>
<circle cx="471.2" cy="363.9" r="1.00" fill="#5a62ac" fill-opacity="0.76"/>
<circle cx="476.8" cy="363.0" r="1.15" fill="#5a62ac" fill-opacity="0.70"/>
<circle cx="471.5" cy="364.1" r="0.82" fill="#5a62ac" fill-opacity="0.65"/>
<circle cx="471.9" cy="358.4" r="0.86" fill="#5a62ac" fill-opacity="0.66"/>
<circle cx="479.3" cy="357.5" r="0.79" fill="#b85a48" fill-opacity="0.85"/>
<circle cx="474.7" cy="360.3" r="1.01" fill="#5a62ac" fill-opacity="0.87"/>
<circle cx="472.0" cy="363.3" r="0.73" fill="#7a80bc" fill-opacity="0.91"/>
<circle cx="478.6" cy="364.3" r="1.12" fill="#7a80bc" fill-opacity="0.84"/>
<circle cx="484.8" cy="351.8" r="0.72" fill="#5a62ac" fill-opacity="0.58"/>
<circle cx="439.8" cy="302.3" r="0.85" fill="#c0604a" fill-opacity="0.77"/>
<circle cx="465.3" cy="362.0" r="1.01" fill="#cc7a66" fill-opacity="0.55"/>
<circle cx="443.4" cy="330.4" r="0.59" fill="#8a90c6" fill-opacity="0.39"/>
<circle cx="488.4" cy="320.1" r="0.55" fill="#4a52a0" fill-opacity="0.32"/>
<circle cx="494.0" cy="342.2" r="1.06" fill="#dc9c88" fill-opacity="0.34"/>
<circle cx="477.5" cy="317.2" r="0.94" fill="#7a80bc" fill-opacity="0.30"/>
<circle cx="475.4" cy="334.1" r="0.88" fill="#cc7a66" fill-opacity="0.67"/>
<circle cx="466.7" cy="336.2" r="0.76" fill="#7a80bc" fill-opacity="0.35"/>
<circle cx="490.0" cy="304.3" r="0.86" fill="#a84c40" fill-opacity="0.75"/>
<circle cx="490.0" cy="314.8" r="0.91" fill="#7a80bc" fill-opacity="0.36"/>
<circle cx="444.5" cy="334.6" r="0.69" fill="#cc7a66" fill-opacity="0.55"/>
<circle cx="459.7" cy="285.3" r="0.94" fill="#a84c40" fill-opacity="0.72"/>
<circle cx="468.4" cy="335.7" r="0.76" fill="#4a52a0" fill-opacity="0.72"/>
<circle cx="477.4" cy="338.1" r="0.86" fill="#4a52a0" fill-opacity="0.35"/>
<circle cx="458.0" cy="289.3" r="1.00" fill="#5a62ac" fill-opacity="0.57"/>
<circle cx="437.7" cy="320.6" r="0.78" fill="#4a52a0" fill-opacity="0.38"/>
<circle cx="484.5" cy="297.3" r="0.93" fill="#a84c40" fill-opacity="0.53"/>
<circle cx="450.8" cy="359.7" r="0.99" fill="#cc7a66" fill-opacity="0.43"/>
<circle cx="455.9" cy="293.5" r="1.08" fill="#7a80bc" fill-opacity="0.52"/>
<circle cx="487.5" cy="288.7" r="0.52" fill="#dc9c88" fill-opacity="0.44"/>
<circle cx="468.3" cy="286.1" r="1.05" fill="#7a80bc" fill-opacity="0.61"/>
<circle cx="452.2" cy="302.0" r="0.99" fill="#dc9c88" fill-opacity="0.53"/>
<circle cx="463.9" cy="292.8" r="1.06" fill="#8a90c6" fill-opacity="0.43"/>
<circle cx="439.7" cy="344.1" r="0.68" fill="#5a62ac" fill-opacity="0.44"/>
<circle cx="482.5" cy="285.7" r="0.71" fill="#4a52a0" fill-opacity="0.37"/>
<circle cx="453.4" cy="285.3" r="1.03" fill="#b85a48" fill-opacity="0.75"/>
<circle cx="487.0" cy="296.6" r="0.71" fill="#8a90c6" fill-opacity="0.57"/>
<circle cx="444.2" cy="310.5" r="0.80" fill="#c0604a" fill-opacity="0.57"/>
<circle cx="445.8" cy="295.3" r="0.69" fill="#6c72b6" fill-opacity="0.44"/>
<circle cx="470.9" cy="333.6" r="0.97" fill="#5a62ac" fill-opacity="0.72"/>
<circle cx="480.7" cy="347.7" r="1.10" fill="#4a52a0" fill-opacity="0.49"/>
<circle cx="495.5" cy="352.4" r="0.67" fill="#cc7a66" fill-opacity="0.54"/>
<circle cx="459.0" cy="350.6" r="0.97" fill="#5a62ac" fill-opacity="0.69"/>
<circle cx="447.4" cy="295.0" r="0.69" fill="#5a62ac" fill-opacity="0.51"/>
<circle cx="488.3" cy="318.1" r="1.05" fill="#5a62ac" fill-opacity="0.33"/>
<circle cx="448.6" cy="357.3" r="1.02" fill="#4a52a0" fill-opacity="0.73"/>
<circle cx="487.9" cy="295.6" r="1.02" fill="#8a90c6" fill-opacity="0.73"/>
<circle cx="466.8" cy="337.2" r="0.52" fill="#b85a48" fill-opacity="0.66"/>
<circle cx="497.0" cy="341.0" r="0.82" fill="#c0604a" fill-opacity="0.70"/>
<circle cx="463.3" cy="291.2" r="0.68" fill="#6c72b6" fill-opacity="0.33"/>
<circle cx="486.3" cy="320.4" r="1.07" fill="#4a52a0" fill-opacity="0.78"/>
<circle cx="483.3" cy="342.6" r="1.01" fill="#a84c40" fill-opacity="0.45"/>
<circle cx="461.7" cy="334.7" r="0.60" fill="#6c72b6" fill-opacity="0.37"/>
<circle cx="465.0" cy="330.9" r="0.97" fill="#b85a48" fill-opacity="0.50"/>
<circle cx="446.7" cy="318.9" r="0.90" fill="#a84c40" fill-opacity="0.78"/>
<circle cx="501.0" cy="354.0" r="0.99" fill="#b85a48" fill-opacity="0.37"/>
<circle cx="438.4" cy="306.0" r="1.01" fill="#dc9c88" fill-opacity="0.72"/>
<circle cx="496.8" cy="309.3" r="1.02" fill="#4a52a0" fill-opacity="0.47"/>
<circle cx="464.7" cy="332.2" r="0.80" fill="#8a90c6" fill-opacity="0.69"/>
<circle cx="459.6" cy="348.7" r="0.65" fill="#5a62ac" fill-opacity="0.70"/>
<circle cx="498.5" cy="309.0" r="0.52" fill="#7a80bc" fill-opacity="0.31"/>
<circle cx="454.4" cy="326.4" r="0.70" fill="#5a62ac" fill-opacity="0.72"/>
<circle cx="480.1" cy="298.7" r="0.78" fill="#c0604a" fill-opacity="0.42"/>
<circle cx="446.1" cy="309.3" r="0.80" fill="#cc7a66" fill-opacity="0.35"/>
<circle cx="450.1" cy="316.5" r="0.55" fill="#c0604a" fill-opacity="0.51"/>
<circle cx="490.6" cy="359.8" r="0.78" fill="#7a80bc" fill-opacity="0.51"/>
<circle cx="447.6" cy="295.2" r="0.79" fill="#6c72b6" fill-opacity="0.74"/>
<circle cx="475.9" cy="311.1" r="1.01" fill="#a84c40" fill-opacity="0.57"/>
<circle cx="484.5" cy="317.9" r="0.73" fill="#6c72b6" fill-opacity="0.39"/>
<circle cx="453.0" cy="358.3" r="1.01" fill="#6c72b6" fill-opacity="0.62"/>
<circle cx="494.3" cy="291.9" r="1.07" fill="#a84c40" fill-opacity="0.75"/>
<circle cx="440.3" cy="308.1" r="0.62" fill="#6c72b6" fill-opacity="0.39"/>
<circle cx="468.0" cy="334.5" r="1.05" fill="#b85a48" fill-opacity="0.66"/>
<circle cx="481.8" cy="355.8" r="0.70" fill="#d08068" fill-opacity="0.64"/>
<circle cx="445.6" cy="352.5" r="0.67" fill="#d08068" fill-opacity="0.71"/>
<circle cx="488.5" cy="344.3" r="0.86" fill="#d08068" fill-opacity="0.32"/>
<circle cx="495.3" cy="287.2" r="0.76" fill="#a84c40" fill-opacity="0.77"/>
<circle cx="488.0" cy="300.7" r="0.89" fill="#5a62ac" fill-opacity="0.57"/>
<circle cx="492.4" cy="364.6" r="0.72" fill="#4a52a0" fill-opacity="0.34"/>
<circle cx="489.3" cy="344.1" r="1.05" fill="#5a62ac" fill-opacity="0.71"/>
<circle cx="455.6" cy="290.6" r="0.60" fill="#d08068" fill-opacity="0.62"/>
<circle cx="492.0" cy="356.9" r="0.64" fill="#b85a48" fill-opacity="0.56"/>
<circle cx="476.6" cy="293.6" r="0.54" fill="#5a62ac" fill-opacity="0.75"/>
<circle cx="458.3" cy="288.4" r="0.84" fill="#cc7a66" fill-opacity="0.33"/>
<circle cx="459.0" cy="294.8" r="0.97" fill="#d08068" fill-opacity="0.65"/>
<circle cx="486.5" cy="333.3" r="0.66" fill="#7a80bc" fill-opacity="0.68"/>
<circle cx="483.9" cy="307.4" r="0.87" fill="#a84c40" fill-opacity="0.50"/>
<circle cx="456.3" cy="284.5" r="0.88" fill="#b85a48" fill-opacity="0.68"/>
<circle cx="491.4" cy="334.3" r="0.54" fill="#cc7a66" fill-opacity="0.30"/>
<circle cx="472.0" cy="295.1" r="0.57" fill="#8a90c6" fill-opacity="0.65"/>
<circle cx="469.7" cy="355.2" r="0.68" fill="#5a62ac" fill-opacity="0.76"/>
<circle cx="454.0" cy="299.5" r="0.71" fill="#a84c40" fill-opacity="0.79"/>
<circle cx="472.5" cy="302.3" r="1.01" fill="#c0604a" fill-opacity="0.50"/>
<circle cx="456.1" cy="297.0" r="0.95" fill="#4a52a0" fill-opacity="0.49"/>
<circle cx="486.4" cy="362.3" r="1.08" fill="#a84c40" fill-opacity="0.49"/>
<circle cx="444.6" cy="287.6" r="0.51" fill="#8a90c6" fill-opacity="0.54"/>
<circle cx="458.8" cy="310.5" r="1.04" fill="#cc7a66" fill-opacity="0.57"/>
<circle cx="497.5" cy="292.2" r="0.98" fill="#7a80bc" fill-opacity="0.68"/>
<circle cx="481.6" cy="307.0" r="0.59" fill="#d08068" fill-opacity="0.53"/>
<circle cx="460.2" cy="301.0" r="0.86" fill="#5a62ac" fill-opacity="0.68"/>
<circle cx="441.5" cy="331.3" r="0.74" fill="#a84c40" fill-opacity="0.43"/>
<circle cx="455.2" cy="357.5" r="0.54" fill="#b85a48" fill-opacity="0.71"/>
<circle cx="499.3" cy="320.0" r="0.90" fill="#dc9c88" fill-opacity="0.74"/>
<circle cx="480.6" cy="335.9" r="0.83" fill="#7a80bc" fill-opacity="0.35"/>
<circle cx="474.2" cy="293.2" r="0.74" fill="#5a62ac" fill-opacity="0.67"/>
<circle cx="498.5" cy="355.5" r="1.07" fill="#5a62ac" fill-opacity="0.60"/>
<circle cx="495.8" cy="308.9" r="0.92" fill="#b85a48" fill-opacity="0.48"/>
<circle cx="474.9" cy="337.8" r="0.76" fill="#b85a48" fill-opacity="0.50"/>
<circle cx="442.3" cy="298.6" r="0.63" fill="#cc7a66" fill-opacity="0.39"/>
<circle cx="465.4" cy="302.1" r="0.97" fill="#dc9c88" fill-opacity="0.59"/>
<circle cx="499.1" cy="295.8" r="0.89" fill="#4a52a0" fill-opacity="0.51"/>
<circle cx="473.2" cy="286.1" r="0.73" fill="#cc7a66" fill-opacity="0.77"/>
<circle cx="486.0" cy="305.5" r="0.75" fill="#6c72b6" fill-opacity="0.46"/>
<circle cx="445.1" cy="326.9" r="1.06" fill="#4a52a0" fill-opacity="0.52"/>
<circle cx="489.6" cy="366.1" r="0.58" fill="#d08068" fill-opacity="0.63"/>
<circle cx="493.0" cy="366.7" r="0.91" fill="#7a80bc" fill-opacity="0.40"/>
<circle cx="463.8" cy="332.6" r="0.80" fill="#a84c40" fill-opacity="0.50"/>
<circle cx="498.9" cy="314.8" r="0.57" fill="#5a62ac" fill-opacity="0.71"/>
<circle cx="498.2" cy="344.4" r="1.02" fill="#7a80bc" fill-opacity="0.47"/>
<circle cx="499.1" cy="328.7" r="0.58" fill="#7a80bc" fill-opacity="0.67"/>
<circle cx="493.0" cy="348.0" r="0.91" fill="#b85a48" fill-opacity="0.36"/>
<circle cx="458.6" cy="362.7" r="0.65" fill="#a84c40" fill-opacity="0.48"/>
</g></g>
<rect x="0.5" y="0.5" width="519" height="390" fill="none" stroke="#626262" stroke-width="1"/>
</svg>
</body></html>
